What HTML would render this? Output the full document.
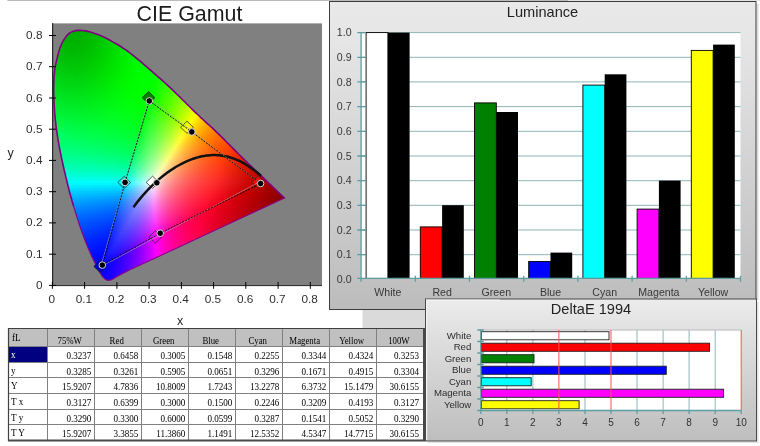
<!DOCTYPE html>
<html><head><meta charset="utf-8"><title>CIE Gamut</title>
<style>
html,body{margin:0;padding:0;background:#fff}
body{width:760px;height:446px;position:relative;overflow:hidden;font-family:"Liberation Sans",sans-serif}
#plot{position:absolute;left:52px;top:23px;width:270px;height:262px;background:linear-gradient(#b0b0b0,#b0b0b0 1px,#808080 1px)}
#cie{position:absolute;left:0;top:0;width:760px;height:446px;clip-path:polygon(172.0px 250.3px,169.1px 251.6px,166.1px 253.0px,163.2px 254.3px,160.2px 255.7px,157.3px 257.0px,154.4px 258.4px,151.4px 259.7px,148.5px 261.1px,145.5px 262.4px,142.6px 263.8px,139.7px 265.2px,136.7px 266.5px,133.8px 267.9px,130.9px 269.3px,128.0px 270.7px,125.1px 272.2px,122.2px 273.7px,119.4px 275.2px,116.6px 276.8px,113.9px 278.5px,110.9px 280.0px,107.8px 280.4px,104.8px 278.9px,102.5px 276.6px,100.8px 273.9px,99.2px 271.1px,97.7px 268.2px,96.2px 265.4px,94.7px 262.5px,93.3px 259.6px,91.9px 256.7px,90.6px 253.7px,89.3px 250.7px,88.0px 247.8px,86.8px 244.8px,85.6px 241.8px,84.4px 238.8px,83.3px 235.7px,82.2px 232.7px,81.1px 229.6px,80.0px 226.6px,79.0px 223.5px,78.0px 220.4px,77.0px 217.4px,76.1px 214.3px,75.1px 211.2px,74.2px 208.1px,73.2px 205.0px,72.3px 201.9px,71.5px 198.8px,70.6px 195.7px,69.7px 192.5px,68.9px 189.4px,68.1px 186.3px,67.3px 183.1px,66.6px 180.0px,65.8px 176.9px,65.1px 173.7px,64.3px 170.6px,63.6px 167.4px,62.9px 164.2px,62.2px 161.1px,61.5px 157.9px,60.9px 154.8px,60.2px 151.6px,59.6px 148.4px,59.0px 145.2px,58.5px 142.1px,57.9px 138.9px,57.4px 135.7px,56.9px 132.5px,56.5px 129.3px,56.0px 126.1px,55.7px 122.9px,55.3px 119.6px,55.0px 116.4px,54.7px 113.2px,54.5px 110.0px,54.3px 106.7px,54.1px 103.5px,54.0px 100.3px,53.9px 97.0px,53.8px 93.8px,53.7px 90.6px,53.7px 87.3px,53.8px 84.1px,53.9px 80.9px,54.0px 77.6px,54.3px 74.4px,54.6px 71.2px,55.0px 68.0px,55.6px 64.8px,56.3px 61.6px,57.1px 58.5px,57.8px 55.4px,58.7px 52.2px,59.6px 49.1px,60.7px 46.1px,62.0px 43.1px,63.6px 40.3px,65.4px 37.6px,67.4px 35.1px,69.8px 32.9px,72.7px 31.4px,75.8px 30.6px,79.1px 30.4px,82.3px 30.5px,85.5px 30.9px,88.7px 31.6px,91.8px 32.5px,94.9px 33.4px,97.9px 34.5px,100.9px 35.7px,103.9px 37.0px,106.8px 38.5px,109.6px 40.0px,112.4px 41.6px,115.3px 43.2px,118.0px 44.8px,120.8px 46.5px,123.5px 48.3px,126.2px 50.1px,128.8px 52.0px,131.3px 54.0px,133.9px 56.0px,136.4px 58.1px,138.9px 60.1px,141.3px 62.2px,143.8px 64.3px,146.2px 66.4px,148.7px 68.6px,151.1px 70.7px,153.6px 72.8px,156.0px 74.9px,158.4px 77.1px,160.9px 79.2px,163.3px 81.4px,165.7px 83.5px,168.0px 85.7px,170.4px 87.9px,172.8px 90.2px,175.1px 92.4px,177.4px 94.7px,179.7px 96.9px,182.0px 99.2px,184.3px 101.5px,186.6px 103.8px,188.9px 106.0px,191.2px 108.3px,193.5px 110.6px,195.8px 112.8px,198.2px 115.0px,200.5px 117.3px,202.9px 119.5px,205.3px 121.6px,207.7px 123.8px,210.1px 126.0px,212.5px 128.2px,214.8px 130.4px,217.1px 132.6px,219.5px 134.9px,221.8px 137.2px,224.1px 139.4px,226.3px 141.7px,228.6px 144.0px,230.9px 146.3px,233.2px 148.6px,235.5px 150.9px,237.8px 153.2px,240.1px 155.5px,242.4px 157.7px,244.7px 160.0px,247.0px 162.2px,249.3px 164.5px,251.7px 166.7px,254.0px 169.0px,256.3px 171.2px,258.7px 173.4px,261.0px 175.7px,263.4px 177.9px,265.7px 180.1px,268.0px 182.4px,270.4px 184.6px,272.7px 186.8px,275.1px 189.1px,277.4px 191.3px,279.7px 193.5px,282.1px 195.8px,284.4px 198.0px)}
#cie i{position:absolute;display:block;height:2px}
svg{position:absolute;left:0;top:0}
</style></head><body>
<div id="plot"></div>
<div id="cie">
<i style="left:75px;top:27px;width:12px;background:linear-gradient(90deg,#00ad00 0px,#00ae00 3px,#00af00 6px,#00b100 9px,#00b400 12px)"></i>
<i style="left:68px;top:29px;width:27px;background:linear-gradient(90deg,#00ae00 0px,#00ad00 3px,#00ad00 6px,#00ae00 9px,#00af00 12px,#00b100 15px,#00b300 18px,#00b600 21px,#00b900 24px,#00bd00 27px)"></i>
<i style="left:66px;top:31px;width:36px;background:linear-gradient(90deg,#00af00 0px,#00ae00 3px,#00ae00 6px,#00ae00 9px,#00af00 12px,#00b100 15px,#00b300 18px,#00b500 21px,#00b800 24px,#00bb00 27px,#00be00 30px,#00c200 33px,#00c600 36px)"></i>
<i style="left:64px;top:33px;width:42px;background:linear-gradient(90deg,#00b100 0px,#00b000 3px,#00af00 6px,#00af00 9px,#00af00 12px,#00b000 15px,#00b200 18px,#00b400 21px,#00b700 24px,#00b900 27px,#00bd00 30px,#00c000 33px,#00c400 36px,#00c800 39px,#00cc00 42px)"></i>
<i style="left:63px;top:35px;width:48px;background:linear-gradient(90deg,#00b200 0px,#00b100 3px,#00b000 6px,#00b000 9px,#00b000 12px,#00b100 15px,#00b200 18px,#00b400 21px,#00b700 24px,#00b900 27px,#00bc00 30px,#00c000 33px,#00c300 36px,#00c700 39px,#00cb00 42px,#00cf00 45px,#00d400 48px)"></i>
<i style="left:61px;top:37px;width:54px;background:linear-gradient(90deg,#00b401 0px,#00b301 3px,#00b100 6px,#00b100 9px,#00b100 12px,#00b100 15px,#00b200 18px,#00b400 21px,#00b600 24px,#00b800 27px,#00bb00 30px,#00be00 33px,#00c200 36px,#00c500 39px,#00c900 42px,#00cd00 45px,#00d200 48px,#00d600 51px,#00da00 54px)"></i>
<i style="left:60px;top:39px;width:57px;background:linear-gradient(90deg,#00b602 0px,#00b401 3px,#00b301 6px,#00b200 9px,#00b200 12px,#00b200 15px,#00b300 18px,#00b400 21px,#00b600 24px,#00b800 27px,#00bb00 30px,#00be00 33px,#00c100 36px,#00c500 39px,#00c900 42px,#00cd00 45px,#00d100 48px,#00d500 51px,#00d900 54px,#00dd00 57px)"></i>
<i style="left:59px;top:41px;width:63px;background:linear-gradient(90deg,#00b802 0px,#00b602 3px,#00b401 6px,#00b301 9px,#00b300 12px,#00b300 15px,#00b400 18px,#00b500 21px,#00b700 24px,#00b900 27px,#00bb00 30px,#00be00 33px,#00c100 36px,#00c500 39px,#00c800 42px,#00cc00 45px,#00d000 48px,#00d400 51px,#00d900 54px,#00dd00 57px,#00e100 60px,#00e500 63px)"></i>
<i style="left:58px;top:43px;width:66px;background:linear-gradient(90deg,#00b903 0px,#00b702 3px,#00b602 6px,#00b501 9px,#00b401 12px,#00b401 15px,#00b500 18px,#00b600 21px,#00b700 24px,#00b900 27px,#00bb00 30px,#00be00 33px,#00c100 36px,#00c400 39px,#00c800 42px,#00cc00 45px,#00d000 48px,#00d400 51px,#00d800 54px,#00dc00 57px,#00e000 60px,#00e400 63px,#00e800 66px)"></i>
<i style="left:57px;top:45px;width:69px;background:linear-gradient(90deg,#00bb04 0px,#00b903 3px,#00b802 6px,#00b602 9px,#00b601 12px,#00b601 15px,#00b601 18px,#00b700 21px,#00b800 24px,#00ba00 27px,#00bc00 30px,#00be00 33px,#00c100 36px,#00c400 39px,#00c800 42px,#00cb00 45px,#00cf00 48px,#00d300 51px,#00d700 54px,#00db00 57px,#00df00 60px,#00e300 63px,#00e700 66px,#00eb00 69px)"></i>
<i style="left:57px;top:47px;width:72px;background:linear-gradient(90deg,#00bd04 0px,#00bb04 3px,#00b903 6px,#00b802 9px,#00b702 12px,#00b701 15px,#00b701 18px,#00b801 21px,#00b900 24px,#00bb00 27px,#00bd00 30px,#00bf00 33px,#00c200 36px,#00c500 39px,#00c900 42px,#00cc00 45px,#00d000 48px,#00d400 51px,#00d800 54px,#00dc00 57px,#00e000 60px,#00e400 63px,#00e800 66px,#00ec00 69px,#00ef00 72px)"></i>
<i style="left:56px;top:49px;width:78px;background:linear-gradient(90deg,#00bf05 0px,#00bd04 3px,#00bb04 6px,#00ba03 9px,#00b903 12px,#00b802 15px,#00b802 18px,#00b901 21px,#00ba01 24px,#00bc00 27px,#00be00 30px,#00c000 33px,#00c300 36px,#00c600 39px,#00c900 42px,#00cc00 45px,#00d000 48px,#00d400 51px,#00d800 54px,#00dc00 57px,#00e000 60px,#00e400 63px,#00e700 66px,#00eb00 69px,#00ef00 72px,#00f200 75px,#00f500 78px)"></i>
<i style="left:56px;top:51px;width:78px;background:linear-gradient(90deg,#00c006 0px,#00be05 3px,#00bc04 6px,#00bb04 9px,#00ba03 12px,#00ba03 15px,#00ba02 18px,#00bb02 21px,#00bc01 24px,#00bd01 27px,#00bf00 30px,#00c100 33px,#00c400 36px,#00c700 39px,#00ca00 42px,#00cd00 45px,#00d100 48px,#00d500 51px,#00d900 54px,#00dd00 57px,#00e000 60px,#00e400 63px,#00e800 66px,#00ec00 69px,#00ef00 72px,#00f200 75px,#00f500 78px)"></i>
<i style="left:55px;top:53px;width:84px;background:linear-gradient(90deg,#00c207 0px,#00c006 3px,#00be05 6px,#00bd05 9px,#00bc04 12px,#00bb03 15px,#00bb03 18px,#00bc02 21px,#00bd02 24px,#00be01 27px,#00c001 30px,#00c200 33px,#00c400 36px,#00c700 39px,#00ca00 42px,#00cd00 45px,#00d100 48px,#00d500 51px,#00d800 54px,#00dc00 57px,#00e000 60px,#00e400 63px,#00e800 66px,#00eb00 69px,#00ef00 72px,#00f200 75px,#00f500 78px,#00f800 81px,#00fa00 84px)"></i>
<i style="left:55px;top:55px;width:84px;background:linear-gradient(90deg,#00c407 0px,#00c207 3px,#00c006 6px,#00be05 9px,#00be05 12px,#00bd04 15px,#00bd03 18px,#00bd03 21px,#00be02 24px,#00c002 27px,#00c101 30px,#00c301 33px,#00c600 36px,#00c800 39px,#00cb00 42px,#00cf00 45px,#00d200 48px,#00d600 51px,#00d900 54px,#00dd00 57px,#00e100 60px,#00e500 63px,#00e800 66px,#00ec00 69px,#00ef00 72px,#00f200 75px,#00f500 78px,#00f800 81px,#00fa00 84px)"></i>
<i style="left:54px;top:57px;width:90px;background:linear-gradient(90deg,#00c609 0px,#00c408 3px,#00c207 6px,#00c006 9px,#00bf06 12px,#00bf05 15px,#00bf04 18px,#00bf04 21px,#00c003 24px,#00c102 27px,#00c202 30px,#00c401 33px,#00c601 36px,#00c900 39px,#00cc00 42px,#00cf00 45px,#00d200 48px,#00d600 51px,#00d900 54px,#00dd00 57px,#00e100 60px,#00e400 63px,#00e800 66px,#00eb00 69px,#00ef00 72px,#00f200 75px,#00f500 78px,#00f800 81px,#00fa00 84px,#00fc00 87px,#00fd00 90px)"></i>
<i style="left:54px;top:59px;width:90px;background:linear-gradient(90deg,#00c709 0px,#00c509 3px,#00c408 6px,#00c207 9px,#00c106 12px,#00c006 15px,#00c005 18px,#00c104 21px,#00c104 24px,#00c203 27px,#00c402 30px,#00c602 33px,#00c801 36px,#00ca01 39px,#00cd00 42px,#00d000 45px,#00d400 48px,#00d700 51px,#00da00 54px,#00de00 57px,#00e200 60px,#00e500 63px,#00e900 66px,#00ec00 69px,#00f000 72px,#00f300 75px,#00f500 78px,#00f800 81px,#00fa00 84px,#00fc00 87px,#00fe00 90px)"></i>
<i style="left:53px;top:61px;width:93px;background:linear-gradient(90deg,#00ca0b 0px,#00c80a 3px,#00c609 6px,#00c408 9px,#00c307 12px,#00c207 15px,#00c206 18px,#00c205 21px,#00c305 24px,#00c404 27px,#00c503 30px,#00c703 33px,#00c902 36px,#00cb01 39px,#00ce01 42px,#00d100 45px,#00d400 48px,#00d700 51px,#00da00 54px,#00de00 57px,#00e200 60px,#00e500 63px,#00e900 66px,#00ec00 69px,#00ef00 72px,#00f200 75px,#00f500 78px,#00f800 81px,#00fa00 84px,#00fc00 87px,#00fd00 90px,#00fe00 93px)"></i>
<i style="left:53px;top:63px;width:96px;background:linear-gradient(90deg,#00cb0c 0px,#00c90b 3px,#00c70a 6px,#00c609 9px,#00c508 12px,#00c407 15px,#00c407 18px,#00c406 21px,#00c405 24px,#00c505 27px,#00c704 30px,#00c803 33px,#00ca03 36px,#00cd02 39px,#00cf01 42px,#00d201 45px,#00d500 48px,#00d800 51px,#00dc00 54px,#00df00 57px,#00e300 60px,#00e600 63px,#00e900 66px,#00ed00 69px,#00f000 72px,#00f300 75px,#00f600 78px,#00f800 81px,#00fa00 84px,#00fc00 87px,#00fe00 90px,#00ff00 93px,#00ff00 96px)"></i>
<i style="left:53px;top:65px;width:99px;background:linear-gradient(90deg,#00cd0d 0px,#00cb0c 3px,#00c90b 6px,#00c80a 9px,#00c709 12px,#00c608 15px,#00c608 18px,#00c607 21px,#00c606 24px,#00c705 27px,#00c805 30px,#00ca04 33px,#00cc03 36px,#00ce03 39px,#00d102 42px,#00d401 45px,#00d701 48px,#00da00 51px,#00dd00 54px,#00e000 57px,#00e400 60px,#00e700 63px,#00ea00 66px,#00ee00 69px,#00f100 72px,#00f400 75px,#00f600 78px,#00f900 81px,#00fb00 84px,#00fc00 87px,#00fe00 90px,#00ff00 93px,#00ff00 96px,#00ff00 99px)"></i>
<i style="left:52px;top:67px;width:102px;background:linear-gradient(90deg,#00cf0e 0px,#00cd0d 3px,#00cb0c 6px,#00ca0b 9px,#00c90a 12px,#00c80a 15px,#00c709 18px,#00c708 21px,#00c807 24px,#00c806 27px,#00ca06 30px,#00cb05 33px,#00cd04 36px,#00cf04 39px,#00d103 42px,#00d402 45px,#00d702 48px,#00da01 51px,#00dd01 54px,#00e000 57px,#00e400 60px,#00e700 63px,#00ea00 66px,#00ed00 69px,#00f000 72px,#00f300 75px,#00f600 78px,#00f800 81px,#00fb00 84px,#00fc00 87px,#00fe00 90px,#00ff00 93px,#00ff00 96px,#00ff00 99px,#00ff00 102px)"></i>
<i style="left:52px;top:69px;width:105px;background:linear-gradient(90deg,#00d10f 0px,#00cf0e 3px,#00cd0d 6px,#00cc0c 9px,#00ca0b 12px,#00ca0b 15px,#00c90a 18px,#00c909 21px,#00ca08 24px,#00ca07 27px,#00cb07 30px,#00cd06 33px,#00cf05 36px,#00d104 39px,#00d304 42px,#00d603 45px,#00d802 48px,#00db02 51px,#00de01 54px,#00e200 57px,#00e500 60px,#00e800 63px,#00eb00 66px,#00ee00 69px,#00f100 72px,#00f400 75px,#00f700 78px,#00f900 81px,#00fb00 84px,#00fd00 87px,#00fe00 90px,#00ff00 93px,#00ff00 96px,#00ff00 99px,#00ff00 102px,#00ff00 105px)"></i>
<i style="left:52px;top:71px;width:108px;background:linear-gradient(90deg,#00d311 0px,#00d110 3px,#00cf0e 6px,#00cd0e 9px,#00cc0d 12px,#00cc0c 15px,#00cb0b 18px,#00cb0a 21px,#00cb09 24px,#00cc08 27px,#00cd08 30px,#00cf07 33px,#00d006 36px,#00d205 39px,#00d504 42px,#00d704 45px,#00da03 48px,#00dd02 51px,#00e002 54px,#00e301 57px,#00e600 60px,#00e900 63px,#00ec00 66px,#00ef00 69px,#00f200 72px,#00f500 75px,#00f700 78px,#00f900 81px,#00fb00 84px,#00fd00 87px,#00fe00 90px,#00ff00 93px,#00ff00 96px,#00ff00 99px,#00ff00 102px,#01ff00 105px,#0bff00 108px)"></i>
<i style="left:52px;top:73px;width:108px;background:linear-gradient(90deg,#00d412 0px,#00d211 3px,#00d110 6px,#00cf0f 9px,#00ce0e 12px,#00cd0d 15px,#00cd0c 18px,#00cd0b 21px,#00cd0a 24px,#00ce09 27px,#00cf08 30px,#00d008 33px,#00d207 36px,#00d406 39px,#00d605 42px,#00d905 45px,#00db04 48px,#00de03 51px,#00e102 54px,#00e402 57px,#00e701 60px,#00ea00 63px,#00ed00 66px,#00f000 69px,#00f300 72px,#00f500 75px,#00f800 78px,#00fa00 81px,#00fc00 84px,#00fd00 87px,#00fe00 90px,#00ff00 93px,#00ff00 96px,#00ff00 99px,#00ff00 102px,#03ff00 105px,#0dff00 108px)"></i>
<i style="left:52px;top:75px;width:111px;background:linear-gradient(90deg,#00d613 0px,#00d412 3px,#00d211 6px,#00d110 9px,#00d00f 12px,#00cf0e 15px,#00cf0d 18px,#00cf0c 21px,#00cf0b 24px,#00d00a 27px,#00d10a 30px,#00d209 33px,#00d408 36px,#00d607 39px,#00d806 42px,#00da05 45px,#00dd05 48px,#00e004 51px,#00e203 54px,#00e502 57px,#00e802 60px,#00eb01 63px,#00ee00 66px,#00f100 69px,#00f400 72px,#00f600 75px,#00f800 78px,#00fa00 81px,#00fc00 84px,#00fd00 87px,#00fe00 90px,#00ff00 93px,#00ff00 96px,#00ff00 99px,#00ff00 102px,#05ff00 105px,#0fff00 108px,#18ff00 111px)"></i>
<i style="left:52px;top:77px;width:114px;background:linear-gradient(90deg,#00d815 0px,#00d613 3px,#00d412 6px,#00d311 9px,#00d210 12px,#00d10f 15px,#00d10e 18px,#00d10d 21px,#00d10c 24px,#00d20c 27px,#00d30b 30px,#00d40a 33px,#00d609 36px,#00d708 39px,#00da07 42px,#00dc06 45px,#00de06 48px,#00e105 51px,#00e404 54px,#00e703 57px,#00ea02 60px,#00ec02 63px,#00ef01 66px,#00f200 69px,#00f400 72px,#00f700 75px,#00f900 78px,#00fb00 81px,#00fd00 84px,#00fe00 87px,#00ff00 90px,#00ff00 93px,#00ff00 96px,#00ff00 99px,#00ff00 102px,#07ff00 105px,#11ff00 108px,#1aff00 111px,#25ff00 114px)"></i>
<i style="left:52px;top:79px;width:117px;background:linear-gradient(90deg,#00da16 0px,#00d815 3px,#00d614 6px,#00d513 9px,#00d412 12px,#00d311 15px,#00d310 18px,#00d30f 21px,#00d30e 24px,#00d40d 27px,#00d50c 30px,#00d60b 33px,#00d70a 36px,#00d909 39px,#00db08 42px,#00de07 45px,#00e007 48px,#00e306 51px,#00e505 54px,#00e804 57px,#00eb03 60px,#00ed02 63px,#00f001 66px,#00f301 69px,#00f500 72px,#00f800 75px,#00fa00 78px,#00fb00 81px,#00fd00 84px,#00fe00 87px,#00ff00 90px,#00ff00 93px,#00ff00 96px,#00ff00 99px,#00ff00 102px,#09ff00 105px,#13ff00 108px,#1dff00 111px,#27ff00 114px,#31ff00 117px)"></i>
<i style="left:52px;top:81px;width:117px;background:linear-gradient(90deg,#00db18 0px,#00d916 3px,#00d815 6px,#00d714 9px,#00d613 12px,#00d512 15px,#00d511 18px,#00d510 21px,#00d50f 24px,#00d60e 27px,#00d60d 30px,#00d80c 33px,#00d90b 36px,#00db0a 39px,#00dd09 42px,#00df09 45px,#00e108 48px,#00e407 51px,#00e706 54px,#00e905 57px,#00ec04 60px,#00ef03 63px,#00f102 66px,#00f401 69px,#00f601 72px,#00f800 75px,#00fa00 78px,#00fc00 81px,#00fd00 84px,#00fe00 87px,#00ff00 90px,#00ff00 93px,#00ff00 96px,#00ff00 99px,#01ff00 102px,#0bff00 105px,#15ff00 108px,#1fff00 111px,#29ff00 114px,#34ff00 117px)"></i>
<i style="left:52px;top:83px;width:120px;background:linear-gradient(90deg,#00dd19 0px,#00db18 3px,#00da17 6px,#00d916 9px,#00d815 12px,#00d713 15px,#00d712 18px,#00d711 21px,#00d710 24px,#00d70f 27px,#00d80e 30px,#00da0d 33px,#00db0d 36px,#00dd0c 39px,#00df0b 42px,#00e10a 45px,#00e309 48px,#00e508 51px,#00e807 54px,#00ea06 57px,#00ed05 60px,#00f004 63px,#00f203 66px,#00f502 69px,#00f701 72px,#00f901 75px,#00fb00 78px,#00fc00 81px,#00fe00 84px,#00fe00 87px,#00ff00 90px,#00ff00 93px,#00ff00 96px,#00ff00 99px,#03ff00 102px,#0dff00 105px,#17ff00 108px,#21ff00 111px,#2cff00 114px,#37ff00 117px,#42ff00 120px)"></i>
<i style="left:52px;top:85px;width:123px;background:linear-gradient(90deg,#00df1b 0px,#00dd1a 3px,#00dc18 6px,#00da17 9px,#00d916 12px,#00d915 15px,#00d814 18px,#00d813 21px,#00d912 24px,#00d911 27px,#00da10 30px,#00db0f 33px,#00dd0e 36px,#00de0d 39px,#00e00c 42px,#00e20b 45px,#00e50a 48px,#00e709 51px,#00e908 54px,#00ec07 57px,#00ee06 60px,#00f105 63px,#00f304 66px,#00f503 69px,#00f802 72px,#00fa01 75px,#00fb01 78px,#00fd00 81px,#00fe00 84px,#00ff00 87px,#00ff00 90px,#00ff00 93px,#00ff00 96px,#00ff00 99px,#05ff00 102px,#0fff00 105px,#19ff00 108px,#24ff00 111px,#2eff00 114px,#39ff00 117px,#45ff00 120px,#50ff00 123px)"></i>
<i style="left:52px;top:87px;width:123px;background:linear-gradient(90deg,#00e01d 0px,#00df1b 3px,#00dd1a 6px,#00dc19 9px,#00db18 12px,#00db17 15px,#00da15 18px,#00da14 21px,#00db13 24px,#00db12 27px,#00dc11 30px,#00dd10 33px,#00df0f 36px,#00e00e 39px,#00e20d 42px,#00e40c 45px,#00e60b 48px,#00e80a 51px,#00eb09 54px,#00ed08 57px,#00ef07 60px,#00f206 63px,#00f405 66px,#00f604 69px,#00f803 72px,#00fa02 75px,#00fc01 78px,#00fd01 81px,#00fe00 84px,#00ff00 87px,#00ff00 90px,#00ff00 93px,#00ff00 96px,#00ff00 99px,#07ff00 102px,#11ff00 105px,#1bff00 108px,#26ff00 111px,#31ff00 114px,#3cff00 117px,#48ff00 120px,#53ff00 123px)"></i>
<i style="left:52px;top:89px;width:126px;background:linear-gradient(90deg,#00e21e 0px,#00e11d 3px,#00df1c 6px,#00de1b 9px,#00dd19 12px,#00dd18 15px,#00dc17 18px,#00dc16 21px,#00dd15 24px,#00dd14 27px,#00de13 30px,#00df12 33px,#00e011 36px,#00e210 39px,#00e40f 42px,#00e50e 45px,#00e80d 48px,#00ea0c 51px,#00ec0b 54px,#00ee09 57px,#00f108 60px,#00f307 63px,#00f506 66px,#00f705 69px,#00f904 72px,#00fb03 75px,#00fc02 78px,#00fd01 81px,#00fe00 84px,#00ff00 87px,#00ff00 90px,#00ff00 93px,#00ff00 96px,#00ff00 99px,#09ff00 102px,#13ff00 105px,#1eff00 108px,#29ff00 111px,#34ff00 114px,#3fff00 117px,#4bff00 120px,#57ff00 123px,#63ff00 126px)"></i>
<i style="left:52px;top:91px;width:129px;background:linear-gradient(90deg,#00e420 0px,#00e21f 3px,#00e11e 6px,#00e01c 9px,#00df1b 12px,#00de1a 15px,#00de19 18px,#00de18 21px,#00de17 24px,#00df16 27px,#00e014 30px,#00e113 33px,#00e212 36px,#00e411 39px,#00e510 42px,#00e70f 45px,#00e90e 48px,#00eb0d 51px,#00ed0c 54px,#00ef0b 57px,#00f20a 60px,#00f409 63px,#00f607 66px,#00f806 69px,#00fa05 72px,#00fb04 75px,#00fd03 78px,#00fe02 81px,#00ff01 84px,#00ff00 87px,#00ff00 90px,#00ff00 93px,#00ff00 96px,#01ff00 99px,#0bff00 102px,#15ff00 105px,#20ff00 108px,#2bff00 111px,#37ff00 114px,#42ff00 117px,#4eff00 120px,#5aff00 123px,#67ff00 126px,#73ff00 129px)"></i>
<i style="left:52px;top:93px;width:129px;background:linear-gradient(90deg,#00e522 0px,#00e421 3px,#00e320 6px,#00e21e 9px,#00e11d 12px,#00e01c 15px,#00e01b 18px,#00e01a 21px,#00e018 24px,#00e117 27px,#00e216 30px,#00e315 33px,#00e414 36px,#00e513 39px,#00e712 42px,#00e911 45px,#00eb10 48px,#00ed0e 51px,#00ef0d 54px,#00f10c 57px,#00f30b 60px,#00f50a 63px,#00f709 66px,#00f908 69px,#00fa06 72px,#00fc05 75px,#00fd04 78px,#00fe03 81px,#00ff02 84px,#00ff01 87px,#00ff00 90px,#00ff00 93px,#00ff00 96px,#03ff00 99px,#0dff00 102px,#18ff00 105px,#23ff00 108px,#2eff00 111px,#3aff00 114px,#45ff00 117px,#51ff00 120px,#5eff00 123px,#6aff00 126px,#77ff00 129px)"></i>
<i style="left:52px;top:95px;width:132px;background:linear-gradient(90deg,#00e724 0px,#00e623 3px,#00e422 6px,#00e320 9px,#00e31f 12px,#00e21e 15px,#00e21d 18px,#00e21b 21px,#00e21a 24px,#00e319 27px,#00e318 30px,#00e417 33px,#00e516 36px,#00e715 39px,#00e814 42px,#00ea12 45px,#00ec11 48px,#00ee10 51px,#00f00f 54px,#00f20e 57px,#00f40d 60px,#00f60b 63px,#00f80a 66px,#00f909 69px,#00fb08 72px,#00fc06 75px,#00fe05 78px,#00fe04 81px,#00ff03 84px,#00ff02 87px,#00ff01 90px,#00ff00 93px,#00ff00 96px,#05ff00 99px,#0fff00 102px,#1aff00 105px,#25ff00 108px,#31ff00 111px,#3dff00 114px,#48ff00 117px,#55ff00 120px,#61ff00 123px,#6eff00 126px,#7bff00 129px,#89ff00 132px)"></i>
<i style="left:52px;top:97px;width:135px;background:linear-gradient(90deg,#00e927 0px,#00e725 3px,#00e624 6px,#00e522 9px,#00e521 12px,#00e420 15px,#00e41f 18px,#00e41d 21px,#00e41c 24px,#00e41b 27px,#00e51a 30px,#00e619 33px,#00e718 36px,#00e816 39px,#00ea15 42px,#00ec14 45px,#00ed13 48px,#00ef12 51px,#00f111 54px,#00f30f 57px,#00f50e 60px,#00f70d 63px,#00f80c 66px,#00fa0a 69px,#00fc09 72px,#00fd08 75px,#00fe07 78px,#00ff05 81px,#00ff04 84px,#00ff03 87px,#00ff02 90px,#00ff01 93px,#00ff00 96px,#07ff00 99px,#12ff00 102px,#1dff00 105px,#28ff00 108px,#34ff00 111px,#40ff00 114px,#4cff00 117px,#58ff00 120px,#65ff00 123px,#72ff00 126px,#80ff00 129px,#8dff00 132px,#9cff00 135px)"></i>
<i style="left:52px;top:99px;width:138px;background:linear-gradient(90deg,#00ea29 0px,#00e927 3px,#00e826 6px,#00e725 9px,#00e623 12px,#00e622 15px,#00e621 18px,#00e61f 21px,#00e61e 24px,#00e61d 27px,#00e71c 30px,#00e81b 33px,#00e91a 36px,#00ea18 39px,#00ec17 42px,#00ed16 45px,#00ef15 48px,#00f114 51px,#00f212 54px,#00f411 57px,#00f610 60px,#00f80f 63px,#00f90d 66px,#00fb0c 69px,#00fc0b 72px,#00fd09 75px,#00fe08 78px,#00ff07 81px,#00ff05 84px,#00ff04 87px,#00ff03 90px,#00ff02 93px,#00ff01 96px,#0aff02 99px,#14ff00 102px,#1fff00 105px,#2bff00 108px,#37ff00 111px,#43ff00 114px,#4fff00 117px,#5cff00 120px,#69ff00 123px,#76ff00 126px,#84ff00 129px,#92ff00 132px,#a1ff00 135px,#afff00 138px)"></i>
<i style="left:52px;top:101px;width:138px;background:linear-gradient(90deg,#00ec2b 0px,#00eb2a 3px,#00ea28 6px,#00e927 9px,#00e826 12px,#00e824 15px,#00e723 18px,#00e722 21px,#00e720 24px,#00e81f 27px,#00e91e 30px,#00e91d 33px,#00ea1c 36px,#00ec1a 39px,#00ed19 42px,#00ef18 45px,#00f017 48px,#00f215 51px,#00f314 54px,#00f513 57px,#00f712 60px,#00f910 63px,#00fa0f 66px,#00fb0e 69px,#00fd0c 72px,#00fe0b 75px,#00fe09 78px,#00ff08 81px,#00ff07 84px,#00ff05 87px,#00ff04 90px,#00ff03 93px,#00ff02 96px,#0eff06 99px,#17ff01 102px,#22ff00 105px,#2eff00 108px,#3aff00 111px,#46ff00 114px,#53ff00 117px,#60ff00 120px,#6dff00 123px,#7bff00 126px,#89ff00 129px,#97ff00 132px,#a6ff00 135px,#b5ff00 138px)"></i>
<i style="left:52px;top:103px;width:141px;background:linear-gradient(90deg,#00ed2e 0px,#00ec2c 3px,#00eb2b 6px,#00ea29 9px,#00ea28 12px,#00e927 15px,#00e925 18px,#00e924 21px,#00e923 24px,#00ea21 27px,#00ea20 30px,#00eb1f 33px,#00ec1e 36px,#00ed1c 39px,#00ef1b 42px,#00f01a 45px,#00f119 48px,#00f317 51px,#00f516 54px,#00f615 57px,#00f813 60px,#00f912 63px,#00fb11 66px,#00fc0f 69px,#00fd0e 72px,#00fe0c 75px,#00ff0b 78px,#00ff09 81px,#00ff08 84px,#00ff07 87px,#00ff05 90px,#00ff04 93px,#05ff06 96px,#12ff0a 99px,#1bff06 102px,#24ff00 105px,#30ff00 108px,#3dff00 111px,#49ff00 114px,#56ff00 117px,#63ff00 120px,#71ff00 123px,#7fff00 126px,#8dff00 129px,#9cff00 132px,#abff00 135px,#bbff00 138px,#cbff00 141px)"></i>
<i style="left:52px;top:105px;width:144px;background:linear-gradient(90deg,#00ef30 0px,#00ee2f 3px,#00ed2d 6px,#00ec2c 9px,#00eb2a 12px,#00eb29 15px,#00eb28 18px,#00eb26 21px,#00eb25 24px,#00eb24 27px,#00ec22 30px,#00ed21 33px,#00ee20 36px,#00ef1f 39px,#00f01d 42px,#00f11c 45px,#00f31b 48px,#00f41a 51px,#00f618 54px,#00f717 57px,#00f915 60px,#00fa14 63px,#00fb13 66px,#00fd11 69px,#00fe10 72px,#00fe0e 75px,#00ff0d 78px,#00ff0b 81px,#00ff0a 84px,#00ff08 87px,#00ff07 90px,#00ff05 93px,#08ff0a 96px,#15ff0e 99px,#1fff0a 102px,#2aff05 105px,#33ff00 108px,#40ff00 111px,#4dff00 114px,#5aff00 117px,#67ff00 120px,#75ff00 123px,#84ff00 126px,#92ff00 129px,#a1ff00 132px,#b1ff00 135px,#c0ff00 138px,#d1ff00 141px,#e2ff00 144px)"></i>
<i style="left:52px;top:107px;width:144px;background:linear-gradient(90deg,#00f033 0px,#00ef31 3px,#00ee30 6px,#00ee2e 9px,#00ed2d 12px,#00ed2b 15px,#00ec2a 18px,#00ec29 21px,#00ed27 24px,#00ed26 27px,#00ed25 30px,#00ee24 33px,#00ef22 36px,#00f021 39px,#00f120 42px,#00f31e 45px,#00f41d 48px,#00f51c 51px,#00f71a 54px,#00f819 57px,#00fa18 60px,#00fb16 63px,#00fc15 66px,#00fd13 69px,#00fe12 72px,#00ff10 75px,#00ff0e 78px,#00ff0d 81px,#00ff0b 84px,#00ff0a 87px,#00ff08 90px,#00ff07 93px,#0bff0e 96px,#19ff12 99px,#23ff0e 102px,#2eff0a 105px,#38ff05 108px,#43ff00 111px,#50ff00 114px,#5eff00 117px,#6cff00 120px,#7aff00 123px,#88ff00 126px,#97ff00 129px,#a6ff00 132px,#b6ff00 135px,#c7ff00 138px,#d7ff00 141px,#e8ff00 144px)"></i>
<i style="left:52px;top:109px;width:147px;background:linear-gradient(90deg,#00f235 0px,#00f134 3px,#00f032 6px,#00ef31 9px,#00ef2f 12px,#00ee2e 15px,#00ee2d 18px,#00ee2b 21px,#00ee2a 24px,#00ee29 27px,#00ef27 30px,#00f026 33px,#00f125 36px,#00f223 39px,#00f322 42px,#00f421 45px,#00f51f 48px,#00f61e 51px,#00f81d 54px,#00f91b 57px,#00fa1a 60px,#00fc18 63px,#00fd17 66px,#00fe15 69px,#00fe14 72px,#00ff12 75px,#00ff10 78px,#00ff0f 81px,#00ff0d 84px,#00ff0b 87px,#00ff0a 90px,#00ff08 93px,#0fff11 96px,#1cff16 99px,#27ff12 102px,#32ff0e 105px,#3dff09 108px,#48ff04 111px,#54ff00 114px,#62ff00 117px,#70ff00 120px,#7eff00 123px,#8dff00 126px,#9cff00 129px,#acff00 132px,#bcff00 135px,#cdff00 138px,#deff00 141px,#f0ff00 144px,#fffc00 147px)"></i>
<i style="left:52px;top:111px;width:150px;background:linear-gradient(90deg,#00f338 0px,#00f237 3px,#00f135 6px,#00f134 9px,#00f032 12px,#00f031 15px,#00f02f 18px,#00f02e 21px,#00f02d 24px,#00f02b 27px,#00f12a 30px,#00f129 33px,#00f227 36px,#00f326 39px,#00f425 42px,#00f523 45px,#00f622 48px,#00f820 51px,#00f91f 54px,#00fa1e 57px,#00fb1c 60px,#00fc1a 63px,#00fd19 66px,#00fe17 69px,#00ff16 72px,#00ff14 75px,#00ff12 78px,#00ff11 81px,#00ff0f 84px,#00ff0d 87px,#00ff0c 90px,#00ff0a 93px,#12ff15 96px,#20ff1a 99px,#2bff16 102px,#36ff12 105px,#41ff0e 108px,#4dff09 111px,#59ff03 114px,#66ff00 117px,#74ff00 120px,#83ff00 123px,#92ff00 126px,#a2ff00 129px,#b2ff00 132px,#c2ff00 135px,#d3ff00 138px,#e5ff00 141px,#f7ff00 144px,#fff500 147px,#ffe400 150px)"></i>
<i style="left:52px;top:113px;width:150px;background:linear-gradient(90deg,#00f43b 0px,#00f33a 3px,#00f338 6px,#00f237 9px,#00f235 12px,#00f134 15px,#00f132 18px,#00f131 21px,#00f12f 24px,#00f22e 27px,#00f22d 30px,#00f32b 33px,#00f32a 36px,#00f429 39px,#00f527 42px,#00f626 45px,#00f724 48px,#00f923 51px,#00fa21 54px,#00fb20 57px,#00fc1e 60px,#00fd1d 63px,#00fe1b 66px,#00fe1a 69px,#00ff18 72px,#00ff16 75px,#00ff14 78px,#00ff13 81px,#00ff11 84px,#00ff0f 87px,#00ff0d 90px,#04ff0e 93px,#15ff18 96px,#23ff1e 99px,#2eff1a 102px,#3aff16 105px,#46ff12 108px,#52ff0d 111px,#5eff08 114px,#6bff03 117px,#79ff00 120px,#88ff00 123px,#97ff00 126px,#a7ff00 129px,#b8ff00 132px,#c9ff00 135px,#daff00 138px,#ecff00 141px,#ffff00 144px,#ffed00 147px,#ffde00 150px)"></i>
<i style="left:52px;top:115px;width:153px;background:linear-gradient(90deg,#00f63e 0px,#00f53d 3px,#00f43b 6px,#00f339 9px,#00f338 12px,#00f337 15px,#00f235 18px,#00f234 21px,#00f332 24px,#00f331 27px,#00f330 30px,#00f42e 33px,#00f52d 36px,#00f52b 39px,#00f62a 42px,#00f729 45px,#00f827 48px,#00f926 51px,#00fb24 54px,#00fc23 57px,#00fc21 60px,#00fd1f 63px,#00fe1e 66px,#00ff1c 69px,#00ff1a 72px,#00ff19 75px,#00ff17 78px,#00ff15 81px,#00ff13 84px,#00ff11 87px,#00ff10 90px,#08ff13 93px,#19ff1c 96px,#27ff22 99px,#32ff1e 102px,#3eff1a 105px,#4aff16 108px,#56ff12 111px,#63ff0d 114px,#71ff08 117px,#7eff02 120px,#8dff00 123px,#9dff00 126px,#adff00 129px,#beff00 132px,#cfff00 135px,#e1ff00 138px,#f4ff00 141px,#fff800 144px,#ffe600 147px,#ffd700 150px,#ffc900 153px)"></i>
<i style="left:52px;top:117px;width:156px;background:linear-gradient(90deg,#00f741 0px,#00f640 3px,#00f53e 6px,#00f53d 9px,#00f43b 12px,#00f43a 15px,#00f438 18px,#00f437 21px,#00f435 24px,#00f434 27px,#00f532 30px,#00f531 33px,#00f630 36px,#00f72e 39px,#00f82d 42px,#00f82b 45px,#00f92a 48px,#00fa28 51px,#00fb27 54px,#00fc25 57px,#00fd24 60px,#00fe22 63px,#00fe20 66px,#00ff1f 69px,#00ff1d 72px,#00ff1b 75px,#00ff19 78px,#00ff17 81px,#00ff15 84px,#00ff14 87px,#00ff12 90px,#0bff17 93px,#1cff1f 96px,#2aff26 99px,#36ff22 102px,#42ff1e 105px,#4eff1a 108px,#5bff16 111px,#68ff11 114px,#76ff0d 117px,#84ff07 120px,#92ff01 123px,#a2ff00 126px,#b3ff00 129px,#c4ff00 132px,#d6ff00 135px,#e8ff00 138px,#fbff00 141px,#fff000 144px,#ffdf00 147px,#ffd000 150px,#ffc300 153px,#ffb700 156px)"></i>
<i style="left:53px;top:119px;width:156px;background:linear-gradient(90deg,#00f844 0px,#00f742 3px,#00f641 6px,#00f63f 9px,#00f63e 12px,#00f53c 15px,#00f53b 18px,#00f539 21px,#00f538 24px,#00f637 27px,#00f635 30px,#00f734 33px,#00f732 36px,#00f831 39px,#00f92f 42px,#00fa2e 45px,#00fb2c 48px,#00fb2b 51px,#00fc29 54px,#00fd28 57px,#00fe26 60px,#00fe24 63px,#00ff22 66px,#00ff21 69px,#00ff1f 72px,#00ff1d 75px,#00ff1b 78px,#00ff19 81px,#00ff17 84px,#00ff15 87px,#02ff15 90px,#15ff1e 93px,#24ff26 96px,#32ff28 99px,#3eff25 102px,#4aff21 105px,#57ff1d 108px,#64ff19 111px,#72ff14 114px,#80ff10 117px,#8fff0a 120px,#9eff05 123px,#aeff00 126px,#bfff00 129px,#d1ff00 132px,#e3ff00 135px,#f6ff00 138px,#fff400 141px,#ffe300 144px,#ffd300 147px,#ffc500 150px,#ffb900 153px,#ffad00 156px)"></i>
<i style="left:53px;top:121px;width:159px;background:linear-gradient(90deg,#00f947 0px,#00f846 3px,#00f844 6px,#00f743 9px,#00f741 12px,#00f740 15px,#00f63e 18px,#00f63d 21px,#00f73b 24px,#00f73a 27px,#00f738 30px,#00f837 33px,#00f835 36px,#00f934 39px,#00fa32 42px,#00fb31 45px,#00fb2f 48px,#00fc2e 51px,#00fd2c 54px,#00fe2b 57px,#00fe29 60px,#00ff27 63px,#00ff25 66px,#00ff23 69px,#00ff21 72px,#00ff20 75px,#00ff1e 78px,#00ff1c 81px,#00ff1a 84px,#00ff18 87px,#06ff1a 90px,#18ff22 93px,#28ff2a 96px,#35ff2c 99px,#42ff29 102px,#4eff25 105px,#5bff21 108px,#69ff1d 111px,#77ff19 114px,#86ff14 117px,#95ff0f 120px,#a4ff0a 123px,#b5ff04 126px,#c6ff00 129px,#d8ff00 132px,#ebff00 135px,#ffff00 138px,#ffed00 141px,#ffdc00 144px,#ffcd00 147px,#ffbf00 150px,#ffb300 153px,#ffa800 156px,#ff9e00 159px)"></i>
<i style="left:53px;top:123px;width:162px;background:linear-gradient(90deg,#00fa4b 0px,#00f949 3px,#00f948 6px,#00f846 9px,#00f845 12px,#00f843 15px,#00f842 18px,#00f840 21px,#00f83f 24px,#00f83d 27px,#00f83c 30px,#00f93a 33px,#00f939 36px,#00fa37 39px,#00fb36 42px,#00fb34 45px,#00fc33 48px,#00fd31 51px,#00fd2f 54px,#00fe2e 57px,#00fe2c 60px,#00ff2a 63px,#00ff28 66px,#00ff26 69px,#00ff24 72px,#00ff22 75px,#00ff20 78px,#00ff1e 81px,#00ff1c 84px,#00ff1a 87px,#0aff1e 90px,#1bff26 93px,#2bff2d 96px,#39ff31 99px,#46ff2d 102px,#53ff29 105px,#60ff26 108px,#6eff22 111px,#7cff1d 114px,#8bff19 117px,#9bff14 120px,#abff0f 123px,#bcff09 126px,#cdff03 129px,#dfff00 132px,#f3ff00 135px,#fff700 138px,#ffe500 141px,#ffd500 144px,#ffc600 147px,#ffb900 150px,#ffae00 153px,#ffa300 156px,#ff9900 159px,#ff9000 162px)"></i>
<i style="left:53px;top:125px;width:162px;background:linear-gradient(90deg,#00fb4e 0px,#00fa4d 3px,#00fa4b 6px,#00f94a 9px,#00f948 12px,#00f947 15px,#00f945 18px,#00f944 21px,#00f942 24px,#00f941 27px,#00f93f 30px,#00fa3e 33px,#00fa3c 36px,#00fb3b 39px,#00fc39 42px,#00fc38 45px,#00fd36 48px,#00fd34 51px,#00fe33 54px,#00fe31 57px,#00ff2f 60px,#00ff2d 63px,#00ff2b 66px,#00ff29 69px,#00ff27 72px,#00ff25 75px,#00ff23 78px,#00ff21 81px,#00ff1f 84px,#00ff1d 87px,#0eff23 90px,#1fff2a 93px,#2fff31 96px,#3dff35 99px,#4aff31 102px,#57ff2e 105px,#65ff2a 108px,#73ff26 111px,#82ff22 114px,#91ff1e 117px,#a1ff19 120px,#b1ff14 123px,#c3ff0f 126px,#d5ff09 129px,#e7ff02 132px,#fbff00 135px,#ffef00 138px,#ffde00 141px,#ffce00 144px,#ffc000 147px,#ffb300 150px,#ffa800 153px,#ff9e00 156px,#ff9400 159px,#ff8b00 162px)"></i>
<i style="left:53px;top:127px;width:165px;background:linear-gradient(90deg,#00fb52 0px,#00fb50 3px,#00fb4f 6px,#00fa4d 9px,#00fa4c 12px,#00fa4a 15px,#00fa49 18px,#00fa47 21px,#00fa46 24px,#00fa44 27px,#00fa43 30px,#00fb41 33px,#00fb40 36px,#00fc3e 39px,#00fc3d 42px,#00fd3b 45px,#00fd39 48px,#00fe38 51px,#00fe36 54px,#00ff34 57px,#00ff32 60px,#00ff30 63px,#00ff2f 66px,#00ff2d 69px,#00ff2b 72px,#00ff29 75px,#00ff27 78px,#00ff25 81px,#00ff22 84px,#00ff20 87px,#11ff27 90px,#22ff2e 93px,#32ff35 96px,#41ff39 99px,#4eff36 102px,#5bff32 105px,#6aff2e 108px,#78ff2b 111px,#87ff27 114px,#97ff22 117px,#a7ff1e 120px,#b8ff19 123px,#caff14 126px,#dcff0e 129px,#efff08 132px,#fffa01 135px,#ffe700 138px,#ffd700 141px,#ffc700 144px,#ffba00 147px,#ffae00 150px,#ffa300 153px,#ff9800 156px,#ff8f00 159px,#ff8700 162px,#ff7f00 165px)"></i>
<i style="left:54px;top:129px;width:165px;background:linear-gradient(90deg,#00fc55 0px,#00fc54 3px,#00fb52 6px,#00fb51 9px,#00fb4f 12px,#00fb4e 15px,#00fb4c 18px,#00fb4b 21px,#00fb49 24px,#00fb48 27px,#00fb46 30px,#00fc44 33px,#00fc43 36px,#00fd41 39px,#00fd40 42px,#00fe3e 45px,#00fe3c 48px,#00fe3b 51px,#00ff39 54px,#00ff37 57px,#00ff35 60px,#00ff33 63px,#00ff31 66px,#00ff2f 69px,#00ff2d 72px,#00ff2b 75px,#00ff29 78px,#00ff27 81px,#00ff25 84px,#08ff27 87px,#1bff2e 90px,#2bff34 93px,#3bff3c 96px,#49ff3c 99px,#57ff39 102px,#65ff35 105px,#73ff32 108px,#82ff2e 111px,#92ff2a 114px,#a2ff26 117px,#b3ff21 120px,#c5ff1c 123px,#d7ff17 126px,#eaff12 129px,#ffff0c 132px,#ffec05 135px,#ffda00 138px,#ffca00 141px,#ffbc00 144px,#ffb000 147px,#ffa400 150px,#ff9a00 153px,#ff9000 156px,#ff8800 159px,#ff8000 162px,#ff7800 165px)"></i>
<i style="left:54px;top:131px;width:168px;background:linear-gradient(90deg,#00fd59 0px,#00fc58 3px,#00fc56 6px,#00fc55 9px,#00fc53 12px,#00fc52 15px,#00fc50 18px,#00fc4e 21px,#00fc4d 24px,#00fc4b 27px,#00fc4a 30px,#00fd48 33px,#00fd47 36px,#00fd45 39px,#00fe44 42px,#00fe42 45px,#00fe40 48px,#00ff3e 51px,#00ff3d 54px,#00ff3b 57px,#00ff39 60px,#00ff37 63px,#00ff35 66px,#00ff33 69px,#00ff31 72px,#00ff2f 75px,#00ff2d 78px,#00ff2b 81px,#00ff28 84px,#0cff2c 87px,#1eff32 90px,#2fff38 93px,#3fff40 96px,#4dff41 99px,#5bff3e 102px,#6aff3a 105px,#79ff36 108px,#88ff33 111px,#98ff2f 114px,#a9ff2b 117px,#baff26 120px,#ccff22 123px,#dfff1d 126px,#f3ff17 129px,#fff711 132px,#ffe40b 135px,#ffd304 138px,#ffc400 141px,#ffb600 144px,#ffaa00 147px,#ff9f00 150px,#ff9500 153px,#ff8c00 156px,#ff8300 159px,#ff7b00 162px,#ff7400 165px,#ff6d00 168px)"></i>
<i style="left:54px;top:133px;width:171px;background:linear-gradient(90deg,#00fd5d 0px,#00fd5c 3px,#00fd5a 6px,#00fd59 9px,#00fc57 12px,#00fc56 15px,#00fc54 18px,#00fc53 21px,#00fc51 24px,#00fd50 27px,#00fd4e 30px,#00fd4c 33px,#00fd4b 36px,#00fe49 39px,#00fe48 42px,#00fe46 45px,#00ff44 48px,#00ff42 51px,#00ff41 54px,#00ff3f 57px,#00ff3d 60px,#00ff3b 63px,#00ff39 66px,#00ff37 69px,#00ff35 72px,#00ff32 75px,#00ff30 78px,#00ff2e 81px,#00ff2c 84px,#10ff31 87px,#22ff37 90px,#33ff3d 93px,#43ff45 96px,#52ff46 99px,#60ff42 102px,#6fff3f 105px,#7eff3b 108px,#8eff38 111px,#9eff34 114px,#afff30 117px,#c1ff2b 120px,#d3ff27 123px,#e7ff22 126px,#fbff1d 129px,#ffef16 132px,#ffdd10 135px,#ffcd09 138px,#ffbe03 141px,#ffb000 144px,#ffa400 147px,#ff9a00 150px,#ff9000 153px,#ff8700 156px,#ff7f00 159px,#ff7700 162px,#ff7000 165px,#ff6900 168px,#ff6300 171px)"></i>
<i style="left:55px;top:135px;width:171px;background:linear-gradient(90deg,#00fe61 0px,#00fe5f 3px,#00fd5e 6px,#00fd5c 9px,#00fd5b 12px,#00fd59 15px,#00fd58 18px,#00fd56 21px,#00fd55 24px,#00fd53 27px,#00fe52 30px,#00fe50 33px,#00fe4e 36px,#00fe4d 39px,#00ff4b 42px,#00ff49 45px,#00ff48 48px,#00ff46 51px,#00ff44 54px,#00ff42 57px,#00ff40 60px,#00ff3e 63px,#00ff3c 66px,#00ff3a 69px,#00ff38 72px,#00ff36 75px,#00ff33 78px,#00ff31 81px,#07ff32 84px,#1aff38 87px,#2cff3d 90px,#3cff43 93px,#4dff4c 96px,#5bff49 99px,#6aff46 102px,#79ff43 105px,#89ff3f 108px,#99ff3b 111px,#aaff37 114px,#bcff33 117px,#ceff2f 120px,#e2ff2b 123px,#f6ff26 126px,#fff41f 129px,#ffe118 132px,#ffd012 135px,#ffc10c 138px,#ffb306 141px,#ffa600 144px,#ff9b00 147px,#ff9100 150px,#ff8800 153px,#ff7f00 156px,#ff7800 159px,#ff7000 162px,#ff6a00 165px,#ff6400 168px,#ff5e00 171px)"></i>
<i style="left:55px;top:137px;width:174px;background:linear-gradient(90deg,#00fe65 0px,#00fe64 3px,#00fe62 6px,#00fe61 9px,#00fe5f 12px,#00fe5e 15px,#00fe5c 18px,#00fe5b 21px,#00fe59 24px,#00fe58 27px,#00fe56 30px,#00fe54 33px,#00fe53 36px,#00ff51 39px,#00ff4f 42px,#00ff4e 45px,#00ff4c 48px,#00ff4a 51px,#00ff48 54px,#00ff46 57px,#00ff44 60px,#00ff42 63px,#00ff40 66px,#00ff3e 69px,#00ff3c 72px,#00ff3a 75px,#00ff38 78px,#00ff35 81px,#0bff38 84px,#1eff3d 87px,#2fff42 90px,#40ff48 93px,#51ff51 96px,#5fff4e 99px,#6fff4b 102px,#7eff48 105px,#8eff44 108px,#9fff40 111px,#b1ff3d 114px,#c3ff39 117px,#d6ff34 120px,#eaff30 123px,#feff2b 126px,#ffeb24 129px,#ffda1d 132px,#ffca16 135px,#ffbb10 138px,#ffae0b 141px,#ffa105 144px,#ff9600 147px,#ff8c00 150px,#ff8300 153px,#ff7b00 156px,#ff7300 159px,#ff6c00 162px,#ff6600 165px,#ff6000 168px,#ff5a00 171px,#ff5500 174px)"></i>
<i style="left:55px;top:139px;width:177px;background:linear-gradient(90deg,#00ff6a 0px,#00fe68 3px,#00fe67 6px,#00fe65 9px,#00fe64 12px,#00fe62 15px,#00fe61 18px,#00fe5f 21px,#00fe5e 24px,#00fe5c 27px,#00fe5b 30px,#00ff59 33px,#00ff57 36px,#00ff56 39px,#00ff54 42px,#00ff52 45px,#00ff50 48px,#00ff4e 51px,#00ff4d 54px,#00ff4b 57px,#00ff49 60px,#00ff47 63px,#00ff45 66px,#00ff42 69px,#00ff40 72px,#00ff3e 75px,#00ff3c 78px,#00ff3a 81px,#0fff3e 84px,#22ff42 87px,#33ff47 90px,#44ff4d 93px,#55ff55 96px,#64ff53 99px,#74ff50 102px,#84ff4d 105px,#94ff49 108px,#a6ff46 111px,#b8ff42 114px,#caff3e 117px,#deff3a 120px,#f2ff36 123px,#fff730 126px,#ffe428 129px,#ffd221 132px,#ffc31a 135px,#ffb514 138px,#ffa80f 141px,#ff9c09 144px,#ff9104 147px,#ff8700 150px,#ff7e00 153px,#ff7600 156px,#ff6f00 159px,#ff6800 162px,#ff6200 165px,#ff5c00 168px,#ff5700 171px,#ff5200 174px,#fd4c00 177px)"></i>
<i style="left:56px;top:141px;width:177px;background:linear-gradient(90deg,#00ff6e 0px,#00ff6c 3px,#00ff6b 6px,#00ff69 9px,#00ff68 12px,#00fe66 15px,#00ff65 18px,#00ff63 21px,#00ff62 24px,#00ff60 27px,#00ff5f 30px,#00ff5d 33px,#00ff5b 36px,#00ff5a 39px,#00ff58 42px,#00ff56 45px,#00ff54 48px,#00ff52 51px,#00ff51 54px,#00ff4f 57px,#00ff4d 60px,#00ff4b 63px,#00ff48 66px,#00ff46 69px,#00ff44 72px,#00ff42 75px,#00ff40 78px,#05ff40 81px,#1aff45 84px,#2cff49 87px,#3dff4e 90px,#4eff54 93px,#5fff5a 96px,#6eff57 99px,#7eff54 102px,#8fff51 105px,#a0ff4e 108px,#b2ff4a 111px,#c5ff46 114px,#d8ff42 117px,#edff3e 120px,#fffc39 123px,#ffe831 126px,#ffd629 129px,#ffc623 132px,#ffb81c 135px,#ffab17 138px,#ff9f11 141px,#ff940c 144px,#ff8a07 147px,#ff8001 150px,#ff7700 153px,#ff7000 156px,#ff6900 159px,#ff6200 162px,#ff5c00 165px,#ff5700 168px,#ff5200 171px,#ff4d00 174px,#fa4700 177px)"></i>
<i style="left:56px;top:143px;width:177px;background:linear-gradient(90deg,#00ff72 0px,#00ff71 3px,#00ff70 6px,#00ff6e 9px,#00ff6d 12px,#00ff6b 15px,#00ff6a 18px,#00ff68 21px,#00ff67 24px,#00ff65 27px,#00ff64 30px,#00ff62 33px,#00ff60 36px,#00ff5f 39px,#00ff5d 42px,#00ff5b 45px,#00ff59 48px,#00ff57 51px,#00ff55 54px,#00ff53 57px,#00ff51 60px,#00ff4f 63px,#00ff4d 66px,#00ff4b 69px,#00ff49 72px,#00ff47 75px,#00ff45 78px,#09ff46 81px,#1eff4b 84px,#30ff4e 87px,#41ff53 90px,#53ff59 93px,#64ff60 96px,#74ff5d 99px,#84ff5a 102px,#95ff57 105px,#a7ff53 108px,#b9ff50 111px,#ccff4c 114px,#e0ff48 117px,#f5ff44 120px,#fff33d 123px,#ffe035 126px,#ffcf2d 129px,#ffc026 132px,#ffb220 135px,#ffa51a 138px,#ff9a15 141px,#ff8f10 144px,#ff850b 147px,#ff7c06 150px,#ff7300 153px,#ff6b00 156px,#ff6500 159px,#ff5e00 162px,#ff5900 165px,#ff5300 168px,#ff4e00 171px,#fe4900 174px,#f94400 177px)"></i>
<i style="left:56px;top:145px;width:180px;background:linear-gradient(90deg,#00ff77 0px,#00ff76 3px,#00ff74 6px,#00ff73 9px,#00ff72 12px,#00ff70 15px,#00ff6f 18px,#00ff6d 21px,#00ff6c 24px,#00ff6a 27px,#00ff69 30px,#00ff67 33px,#00ff65 36px,#00ff64 39px,#00ff62 42px,#00ff60 45px,#00ff5e 48px,#00ff5c 51px,#00ff5a 54px,#00ff59 57px,#00ff57 60px,#00ff55 63px,#00ff52 66px,#00ff50 69px,#00ff4e 72px,#00ff4c 75px,#00ff4a 78px,#0eff4d 81px,#22ff50 84px,#34ff54 87px,#46ff58 90px,#57ff5e 93px,#69ff65 96px,#79ff62 99px,#8aff5f 102px,#9bff5c 105px,#adff59 108px,#c0ff55 111px,#d4ff52 114px,#e9ff4e 117px,#feff4a 120px,#ffeb41 123px,#ffd838 126px,#ffc831 129px,#ffb92a 132px,#ffac24 135px,#ffa01e 138px,#ff9518 141px,#ff8b13 144px,#ff810e 147px,#ff780a 150px,#ff7005 153px,#ff6700 156px,#ff6100 159px,#ff5b00 162px,#ff5500 165px,#ff5000 168px,#ff4b00 171px,#fc4600 174px,#f84000 177px,#f33b00 180px)"></i>
<i style="left:57px;top:147px;width:180px;background:linear-gradient(90deg,#00ff7c 0px,#00ff7a 3px,#00ff79 6px,#00ff78 9px,#00ff76 12px,#00ff75 15px,#00ff73 18px,#00ff72 21px,#00ff70 24px,#00ff6f 27px,#00ff6d 30px,#00ff6c 33px,#00ff6a 36px,#00ff68 39px,#00ff67 42px,#00ff65 45px,#00ff63 48px,#00ff61 51px,#00ff5f 54px,#00ff5d 57px,#00ff5b 60px,#00ff59 63px,#00ff57 66px,#00ff55 69px,#00ff53 72px,#00ff51 75px,#03ff4f 78px,#19ff54 81px,#2cff58 84px,#3eff5b 87px,#50ff5f 90px,#62ff66 93px,#73ff6a 96px,#84ff67 99px,#96ff64 102px,#a8ff61 105px,#bbff5e 108px,#cfff5a 111px,#e3ff57 114px,#f9ff53 117px,#fff04b 120px,#ffdd42 123px,#ffcc39 126px,#ffbc32 129px,#ffaf2b 132px,#ffa225 135px,#ff971f 138px,#ff8d1a 141px,#ff8315 144px,#ff7a10 147px,#ff720c 150px,#ff6a07 153px,#ff6202 156px,#ff5b00 159px,#ff5500 162px,#ff5000 165px,#ff4b00 168px,#ff4600 171px,#fa4100 174px,#f53b00 177px,#f03700 180px)"></i>
<i style="left:57px;top:149px;width:183px;background:linear-gradient(90deg,#00ff81 0px,#00ff80 3px,#00ff7e 6px,#00ff7d 9px,#00ff7c 12px,#00ff7a 15px,#00ff79 18px,#00ff77 21px,#00ff76 24px,#00ff74 27px,#00ff73 30px,#00ff71 33px,#00ff70 36px,#00ff6e 39px,#00ff6c 42px,#00ff6a 45px,#00ff69 48px,#00ff67 51px,#00ff65 54px,#00ff63 57px,#00ff61 60px,#00ff5f 63px,#00ff5d 66px,#00ff5b 69px,#00ff59 72px,#00ff56 75px,#08ff57 78px,#1dff5b 81px,#30ff5e 84px,#43ff61 87px,#55ff65 90px,#67ff6b 93px,#79ff70 96px,#8aff6d 99px,#9cff6a 102px,#afff67 105px,#c2ff64 108px,#d7ff61 111px,#ecff5d 114px,#fffc58 117px,#ffe74e 120px,#ffd545 123px,#ffc53d 126px,#ffb635 129px,#ffa92f 132px,#ff9d28 135px,#ff9223 138px,#ff881d 141px,#ff7f18 144px,#ff7614 147px,#ff6e0f 150px,#ff660b 153px,#ff5f06 156px,#ff5802 159px,#ff5200 162px,#ff4c00 165px,#ff4800 168px,#fd4300 171px,#f83d00 174px,#f33800 177px,#ee3400 180px,#e92f00 183px)"></i>
<i style="left:57px;top:151px;width:186px;background:linear-gradient(90deg,#00ff86 0px,#00ff85 3px,#00ff84 6px,#00ff83 9px,#00ff81 12px,#00ff80 15px,#00ff7e 18px,#00ff7d 21px,#00ff7c 24px,#00ff7a 27px,#00ff78 30px,#00ff77 33px,#00ff75 36px,#00ff74 39px,#00ff72 42px,#00ff70 45px,#00ff6e 48px,#00ff6d 51px,#00ff6b 54px,#00ff69 57px,#00ff67 60px,#00ff65 63px,#00ff63 66px,#00ff61 69px,#00ff5f 72px,#00ff5c 75px,#0cff5e 78px,#21ff61 81px,#35ff64 84px,#47ff67 87px,#5aff6b 90px,#6cff71 93px,#7fff76 96px,#90ff73 99px,#a3ff71 102px,#b6ff6e 105px,#caff6a 108px,#dfff67 111px,#f5ff64 114px,#fff35c 117px,#ffdf52 120px,#ffcd48 123px,#ffbe40 126px,#ffb039 129px,#ffa332 132px,#ff982c 135px,#ff8d26 138px,#ff8321 141px,#ff7a1c 144px,#ff7217 147px,#ff6a12 150px,#ff630e 153px,#ff5c0a 156px,#ff5505 159px,#ff4e01 162px,#ff4900 165px,#ff4400 168px,#fc3f00 171px,#f73a00 174px,#f23500 177px,#ed3100 180px,#e82d00 183px,#e32900 186px)"></i>
<i style="left:58px;top:153px;width:186px;background:linear-gradient(90deg,#00ff8c 0px,#00ff8a 3px,#00ff89 6px,#00ff88 9px,#00ff87 12px,#00ff85 15px,#00ff84 18px,#00ff82 21px,#00ff81 24px,#00ff7f 27px,#00ff7e 30px,#00ff7c 33px,#00ff7b 36px,#00ff79 39px,#00ff78 42px,#00ff76 45px,#00ff74 48px,#00ff72 51px,#00ff70 54px,#00ff6f 57px,#00ff6d 60px,#00ff6b 63px,#00ff69 66px,#00ff67 69px,#00ff64 72px,#00ff62 75px,#18ff67 78px,#2cff69 81px,#40ff6c 84px,#52ff6f 87px,#65ff73 90px,#78ff7a 93px,#8aff7c 96px,#9dff79 99px,#b0ff76 102px,#c4ff73 105px,#d9ff70 108px,#efff6d 111px,#fff867 114px,#ffe35c 117px,#ffd152 120px,#ffc149 123px,#ffb241 126px,#ffa53a 129px,#ff9a33 132px,#ff8f2d 135px,#ff8527 138px,#ff7c22 141px,#ff731d 144px,#ff6c18 147px,#ff6414 150px,#ff5d10 153px,#ff570c 156px,#ff5008 159px,#ff4a03 162px,#ff4400 165px,#fe3f00 168px,#f93a00 171px,#f43500 174px,#ef3100 177px,#ea2d00 180px,#e52900 183px,#e02500 186px)"></i>
<i style="left:58px;top:155px;width:189px;background:linear-gradient(90deg,#00ff92 0px,#00ff90 3px,#00ff8f 6px,#00ff8e 9px,#00ff8d 12px,#00ff8b 15px,#00ff8a 18px,#00ff89 21px,#00ff87 24px,#00ff86 27px,#00ff84 30px,#00ff83 33px,#00ff81 36px,#00ff80 39px,#00ff7e 42px,#00ff7c 45px,#00ff7b 48px,#00ff79 51px,#00ff77 54px,#00ff75 57px,#00ff73 60px,#00ff71 63px,#00ff6f 66px,#00ff6d 69px,#00ff6b 72px,#05ff6b 75px,#1cff6e 78px,#31ff70 81px,#44ff73 84px,#57ff75 87px,#6bff79 90px,#7eff80 93px,#91ff82 96px,#a4ff80 99px,#b7ff7d 102px,#ccff7a 105px,#e2ff77 108px,#f8ff74 111px,#ffef6a 114px,#ffdb5f 117px,#ffca55 120px,#ffba4c 123px,#ffac44 126px,#ffa03d 129px,#ff9436 132px,#ff8a30 135px,#ff802a 138px,#ff7825 141px,#ff6f20 144px,#ff681b 147px,#ff6117 150px,#ff5a13 153px,#ff540f 156px,#ff4e0b 159px,#ff4807 162px,#ff4203 165px,#fd3c00 168px,#f83700 171px,#f33200 174px,#ee2e00 177px,#e92a00 180px,#e42600 183px,#df2300 186px,#da1f00 189px)"></i>
<i style="left:59px;top:157px;width:189px;background:linear-gradient(90deg,#00ff97 0px,#00ff96 3px,#00ff95 6px,#00ff94 9px,#00ff92 12px,#00ff91 15px,#00ff90 18px,#00ff8f 21px,#00ff8d 24px,#00ff8c 27px,#00ff8a 30px,#00ff89 33px,#00ff87 36px,#00ff86 39px,#00ff84 42px,#00ff83 45px,#00ff81 48px,#00ff7f 51px,#00ff7d 54px,#00ff7c 57px,#00ff7a 60px,#00ff78 63px,#00ff76 66px,#00ff74 69px,#00ff72 72px,#12ff74 75px,#28ff77 78px,#3cff78 81px,#50ff7b 84px,#63ff7d 87px,#77ff82 90px,#8bff8b 93px,#9eff88 96px,#b1ff86 99px,#c6ff83 102px,#dcff80 105px,#f3ff7d 108px,#fff475 111px,#ffdf69 114px,#ffcd5e 117px,#ffbd55 120px,#ffaf4c 123px,#ffa244 126px,#ff963d 129px,#ff8c37 132px,#ff8231 135px,#ff792b 138px,#ff7126 141px,#ff6921 144px,#ff621d 147px,#ff5b18 150px,#ff5514 153px,#ff4f10 156px,#ff490c 159px,#ff4309 162px,#ff3e05 165px,#fa3700 168px,#f53200 171px,#f02e00 174px,#eb2a00 177px,#e62600 180px,#e12200 183px,#dc1f00 186px,#d71c00 189px)"></i>
<i style="left:59px;top:159px;width:192px;background:linear-gradient(90deg,#00ff9e 0px,#00ff9d 3px,#00ff9b 6px,#00ff9a 9px,#00ff99 12px,#00ff98 15px,#00ff97 18px,#00ff95 21px,#00ff94 24px,#00ff93 27px,#00ff91 30px,#00ff90 33px,#00ff8e 36px,#00ff8d 39px,#00ff8b 42px,#00ff8a 45px,#00ff88 48px,#00ff87 51px,#00ff85 54px,#00ff83 57px,#00ff81 60px,#00ff7f 63px,#00ff7d 66px,#00ff7b 69px,#00ff79 72px,#17ff7d 75px,#2cff7f 78px,#41ff80 81px,#55ff82 84px,#69ff85 87px,#7dff89 90px,#91ff91 93px,#a5ff90 96px,#b9ff8d 99px,#ceff8b 102px,#e5ff88 105px,#fcff85 108px,#ffeb78 111px,#ffd76c 114px,#ffc661 117px,#ffb658 120px,#ffa94f 123px,#ff9c47 126px,#ff9140 129px,#ff873a 132px,#ff7d34 135px,#ff752e 138px,#ff6d29 141px,#ff6524 144px,#ff5e1f 147px,#ff581b 150px,#ff5217 153px,#ff4c13 156px,#ff460f 159px,#ff410c 162px,#fe3c08 165px,#f93504 168px,#f42f00 171px,#ef2b00 174px,#ea2700 177px,#e52300 180px,#e02000 183px,#db1d00 186px,#d61a00 189px,#d11700 192px)"></i>
<i style="left:59px;top:161px;width:195px;background:linear-gradient(90deg,#00ffa4 0px,#00ffa3 3px,#00ffa2 6px,#00ffa1 9px,#00ffa0 12px,#00ff9f 15px,#00ff9e 18px,#00ff9c 21px,#00ff9b 24px,#00ff9a 27px,#00ff99 30px,#00ff97 33px,#00ff96 36px,#00ff94 39px,#00ff93 42px,#00ff91 45px,#00ff90 48px,#00ff8e 51px,#00ff8d 54px,#00ff8b 57px,#00ff89 60px,#00ff87 63px,#00ff85 66px,#00ff84 69px,#03ff82 72px,#1cff85 75px,#31ff87 78px,#46ff88 81px,#5aff8a 84px,#6eff8c 87px,#83ff90 90px,#98ff98 93px,#acff97 96px,#c1ff95 99px,#d7ff92 102px,#eeff90 105px,#fff889 108px,#ffe27b 111px,#ffcf6f 114px,#ffbe64 117px,#ffb05b 120px,#ffa252 123px,#ff964a 126px,#ff8c43 129px,#ff823c 132px,#ff7936 135px,#ff7031 138px,#ff692c 141px,#ff6127 144px,#ff5b22 147px,#ff541e 150px,#ff4f1a 153px,#ff4916 156px,#ff4412 159px,#ff3e0e 162px,#fd390b 165px,#f83307 168px,#f32e03 171px,#ee2800 174px,#e92400 177px,#e42100 180px,#df1e00 183px,#da1b00 186px,#d51800 189px,#d01500 192px,#cb1300 195px)"></i>
<i style="left:60px;top:163px;width:195px;background:linear-gradient(90deg,#00ffab 0px,#00ffaa 3px,#00ffa9 6px,#00ffa8 9px,#00ffa7 12px,#00ffa6 15px,#00ffa5 18px,#00ffa3 21px,#00ffa2 24px,#00ffa1 27px,#00ffa0 30px,#00ff9e 33px,#00ff9d 36px,#00ff9c 39px,#00ff9a 42px,#00ff99 45px,#00ff97 48px,#00ff96 51px,#00ff94 54px,#00ff93 57px,#00ff91 60px,#00ff8f 63px,#00ff8d 66px,#00ff8c 69px,#11ff8d 72px,#28ff8f 75px,#3dff90 78px,#52ff91 81px,#67ff93 84px,#7bff95 87px,#90ff99 90px,#a6ffa0 93px,#bbff9e 96px,#d1ff9c 99px,#e8ff9a 102px,#fffe97 105px,#ffe787 108px,#ffd37a 111px,#ffc26e 114px,#ffb264 117px,#ffa55a 120px,#ff9852 123px,#ff8d4a 126px,#ff8343 129px,#ff7a3d 132px,#ff7237 135px,#ff6a32 138px,#ff622d 141px,#ff5c28 144px,#ff5523 147px,#ff4f1f 150px,#ff4a1b 153px,#ff4417 156px,#ff3f13 159px,#ff3a10 162px,#fa350c 165px,#f52f08 168px,#f02a05 171px,#eb2501 174px,#e62100 177px,#e11d00 180px,#dc1a00 183px,#d71800 186px,#d21500 189px,#cd1300 192px,#c81100 195px)"></i>
<i style="left:60px;top:165px;width:198px;background:linear-gradient(90deg,#00ffb2 0px,#00ffb1 3px,#00ffb0 6px,#00ffaf 9px,#00ffae 12px,#00ffad 15px,#00ffac 18px,#00ffab 21px,#00ffaa 24px,#00ffa9 27px,#00ffa8 30px,#00ffa7 33px,#00ffa5 36px,#00ffa4 39px,#00ffa3 42px,#00ffa1 45px,#00ffa0 48px,#00ff9f 51px,#00ff9d 54px,#00ff9b 57px,#00ff9a 60px,#00ff98 63px,#00ff97 66px,#00ff95 69px,#16ff97 72px,#2dff98 75px,#42ff99 78px,#57ff9a 81px,#6dff9b 84px,#82ff9d 87px,#97ffa1 90px,#adffa9 93px,#c3ffa7 96px,#daffa5 99px,#f2ffa2 102px,#fff499 105px,#ffde8a 108px,#ffcb7d 111px,#ffba71 114px,#ffac66 117px,#ff9f5d 120px,#ff9355 123px,#ff884d 126px,#ff7e46 129px,#ff7540 132px,#ff6d3a 135px,#ff6634 138px,#ff5f2f 141px,#ff582a 144px,#ff5226 147px,#ff4c21 150px,#ff471d 153px,#ff421a 156px,#ff3d16 159px,#fe3812 162px,#f9320e 165px,#f42d0b 168px,#ef2808 171px,#ea2304 174px,#e51f01 177px,#e01b00 180px,#db1800 183px,#d61600 186px,#d11300 189px,#cc1100 192px,#c70f00 195px,#c20d00 198px)"></i>
<i style="left:61px;top:167px;width:198px;background:linear-gradient(90deg,#00ffba 0px,#00ffb9 3px,#00ffb8 6px,#00ffb7 9px,#00ffb6 12px,#00ffb5 15px,#00ffb4 18px,#00ffb3 21px,#00ffb2 24px,#00ffb1 27px,#00ffb0 30px,#00ffaf 33px,#00ffae 36px,#00ffac 39px,#00ffab 42px,#00ffaa 45px,#00ffa9 48px,#00ffa7 51px,#00ffa6 54px,#00ffa4 57px,#00ffa3 60px,#00ffa1 63px,#00ffa0 66px,#0affa0 69px,#23ffa1 72px,#39ffa2 75px,#4fffa3 78px,#64ffa4 81px,#7affa5 84px,#90ffa7 87px,#a6ffac 90px,#bcffb1 93px,#d3ffaf 96px,#ebffad 99px,#fffaa7 102px,#ffe396 105px,#ffcf88 108px,#ffbe7b 111px,#ffae70 114px,#ffa166 117px,#ff955d 120px,#ff8a55 123px,#ff804d 126px,#ff7746 129px,#ff6e40 132px,#ff673a 135px,#ff5f35 138px,#ff5930 141px,#ff532b 144px,#ff4d27 147px,#ff4723 150px,#ff421f 153px,#ff3d1b 156px,#ff3917 159px,#fb3313 162px,#f62e10 165px,#f1290c 168px,#ec2509 171px,#e72006 174px,#e21c03 177px,#dd1800 180px,#d81500 183px,#d31300 186px,#ce1000 189px,#c90e00 192px,#c40c00 195px,#bf0b00 198px)"></i>
<i style="left:61px;top:169px;width:201px;background:linear-gradient(90deg,#00ffc2 0px,#00ffc1 3px,#00ffc0 6px,#00ffbf 9px,#00ffbe 12px,#00ffbe 15px,#00ffbd 18px,#00ffbc 21px,#00ffbb 24px,#00ffba 27px,#00ffb9 30px,#00ffb8 33px,#00ffb7 36px,#00ffb6 39px,#00ffb5 42px,#00ffb3 45px,#00ffb2 48px,#00ffb1 51px,#00ffb0 54px,#00ffae 57px,#00ffad 60px,#00ffac 63px,#00ffaa 66px,#10ffab 69px,#28ffac 72px,#3effac 75px,#55ffad 78px,#6bffad 81px,#81ffae 84px,#97ffb0 87px,#aeffb5 90px,#c5ffba 93px,#ddffb8 96px,#f6ffb6 99px,#ffefa9 102px,#ffda99 105px,#ffc78a 108px,#ffb67e 111px,#ffa873 114px,#ff9b68 117px,#ff8f5f 120px,#ff8457 123px,#ff7b50 126px,#ff7249 129px,#ff6a43 132px,#ff633d 135px,#ff5c37 138px,#ff5532 141px,#ff4f2e 144px,#ff4a29 147px,#ff4425 150px,#ff3f21 153px,#ff3b1d 156px,#ff3619 159px,#fa3116 162px,#f52c12 165px,#f0270e 168px,#eb230b 171px,#e61f08 174px,#e11b05 177px,#dc1702 180px,#d71300 183px,#d21100 186px,#cd0f00 189px,#c80d00 192px,#c30b00 195px,#be0900 198px,#b90700 201px)"></i>
<i style="left:62px;top:171px;width:201px;background:linear-gradient(90deg,#00ffca 0px,#00ffc9 3px,#00ffc8 6px,#00ffc8 9px,#00ffc7 12px,#00ffc6 15px,#00ffc5 18px,#00ffc5 21px,#00ffc4 24px,#00ffc3 27px,#00ffc2 30px,#00ffc1 33px,#00ffc0 36px,#00ffbf 39px,#00ffbe 42px,#00ffbd 45px,#00ffbc 48px,#00ffbb 51px,#00ffba 54px,#00ffb9 57px,#00ffb7 60px,#00ffb6 63px,#02ffb5 66px,#1dffb7 69px,#35ffb7 72px,#4bffb7 75px,#62ffb8 78px,#78ffb8 81px,#8fffb9 84px,#a6ffbb 87px,#beffc1 90px,#d6ffc3 93px,#efffc1 96px,#fff5b8 99px,#ffdea6 102px,#ffca96 105px,#ffb988 108px,#ffaa7c 111px,#ff9d72 114px,#ff9168 117px,#ff865f 120px,#ff7c57 123px,#ff7350 126px,#ff6b49 129px,#ff6343 132px,#ff5c3d 135px,#ff5638 138px,#ff5033 141px,#ff4a2e 144px,#ff452a 147px,#ff4026 150px,#ff3b22 153px,#ff361e 156px,#fc311a 159px,#f72d16 162px,#f22813 165px,#ed240f 168px,#e81f0c 171px,#e31c09 174px,#de1806 177px,#d91404 180px,#d41000 183px,#cf0e00 186px,#ca0c00 189px,#c50a00 192px,#c00800 195px,#bb0700 198px,#b60500 201px)"></i>
<i style="left:62px;top:173px;width:204px;background:linear-gradient(90deg,#00ffd3 0px,#00ffd2 3px,#00ffd1 6px,#00ffd1 9px,#00ffd0 12px,#00ffd0 15px,#00ffcf 18px,#00ffce 21px,#00ffcd 24px,#00ffcd 27px,#00ffcc 30px,#00ffcb 33px,#00ffca 36px,#00ffca 39px,#00ffc9 42px,#00ffc8 45px,#00ffc7 48px,#00ffc6 51px,#00ffc5 54px,#00ffc4 57px,#00ffc3 60px,#00ffc2 63px,#08ffc2 66px,#22ffc2 69px,#3affc3 72px,#51ffc3 75px,#68ffc3 78px,#7fffc3 81px,#97ffc4 84px,#aeffc5 87px,#c7ffca 90px,#e0ffcd 93px,#faffcb 96px,#ffebba 99px,#ffd5a8 102px,#ffc299 105px,#ffb28b 108px,#ffa37f 111px,#ff9774 114px,#ff8b6a 117px,#ff8162 120px,#ff775a 123px,#ff6f52 126px,#ff674c 129px,#ff5f45 132px,#ff5940 135px,#ff523a 138px,#ff4c35 141px,#ff4731 144px,#ff422c 147px,#ff3d28 150px,#ff3824 153px,#ff3420 156px,#fb2f1c 159px,#f62a18 162px,#f12615 165px,#ec2111 168px,#e71e0e 171px,#e21a0b 174px,#dd1608 177px,#d81306 180px,#d31003 183px,#ce0c00 186px,#c90a00 189px,#c40900 192px,#bf0700 195px,#ba0500 198px,#b50400 201px,#b00300 204px)"></i>
<i style="left:63px;top:175px;width:204px;background:linear-gradient(90deg,#00ffdc 0px,#00ffdb 3px,#00ffdb 6px,#00ffda 9px,#00ffda 12px,#00ffd9 15px,#00ffd9 18px,#00ffd8 21px,#00ffd7 24px,#00ffd7 27px,#00ffd6 30px,#00ffd6 33px,#00ffd5 36px,#00ffd4 39px,#00ffd4 42px,#00ffd3 45px,#00ffd2 48px,#00ffd1 51px,#00ffd1 54px,#00ffd0 57px,#00ffcf 60px,#00ffce 63px,#17ffcf 66px,#30ffcf 69px,#48ffcf 72px,#5fffcf 75px,#77ffcf 78px,#8effcf 81px,#a7ffd0 84px,#bfffd1 87px,#d9ffd8 90px,#f3ffd7 93px,#fff1ca 96px,#ffdab6 99px,#ffc6a5 102px,#ffb596 105px,#ffa689 108px,#ff997d 111px,#ff8d73 114px,#ff826a 117px,#ff7861 120px,#ff6f59 123px,#ff6752 126px,#ff604c 129px,#ff5946 132px,#ff5340 135px,#ff4d3b 138px,#ff4736 141px,#ff4231 144px,#ff3d2d 147px,#ff3929 150px,#ff3425 153px,#fd3021 156px,#f82b1d 159px,#f32619 162px,#ee2216 165px,#e91e12 168px,#e41a0f 171px,#df170c 174px,#da1409 177px,#d51107 180px,#d00e04 183px,#cb0b02 186px,#c60800 189px,#c10600 192px,#bc0500 195px,#b70400 198px,#b20200 201px,#ad0100 204px)"></i>
<i style="left:63px;top:177px;width:207px;background:linear-gradient(90deg,#00ffe5 0px,#00ffe5 3px,#00ffe5 6px,#00ffe4 9px,#00ffe4 12px,#00ffe4 15px,#00ffe3 18px,#00ffe3 21px,#00ffe2 24px,#00ffe2 27px,#00ffe1 30px,#00ffe1 33px,#00ffe1 36px,#00ffe0 39px,#00ffe0 42px,#00ffdf 45px,#00ffde 48px,#00ffde 51px,#00ffdd 54px,#00ffdd 57px,#00ffdc 60px,#00ffdb 63px,#1cffdc 66px,#36ffdc 69px,#4effdc 72px,#66ffdc 75px,#7effdc 78px,#96ffdc 81px,#afffdc 84px,#c9ffdd 87px,#e3ffe3 90px,#feffe2 93px,#ffe6cc 96px,#ffd0b8 99px,#ffbea7 102px,#ffad98 105px,#ff9f8b 108px,#ff9280 111px,#ff8775 114px,#ff7d6c 117px,#ff7364 120px,#ff6b5c 123px,#ff6355 126px,#ff5c4e 129px,#ff5548 132px,#ff4f42 135px,#ff493d 138px,#ff4438 141px,#ff3f34 144px,#ff3a2f 147px,#ff362b 150px,#ff3227 153px,#fc2d23 156px,#f7281f 159px,#f2241b 162px,#ed2018 165px,#e81c14 168px,#e31911 171px,#de150e 174px,#d9120b 177px,#d40f09 180px,#cf0c06 183px,#ca0a04 186px,#c50701 189px,#c00500 192px,#bb0300 195px,#b60200 198px,#b10100 201px,#ac0000 204px,#a70000 207px)"></i>
<i style="left:64px;top:179px;width:207px;background:linear-gradient(90deg,#00ffef 0px,#00ffef 3px,#00ffef 6px,#00ffef 9px,#00ffef 12px,#00ffee 15px,#00ffee 18px,#00ffee 21px,#00ffee 24px,#00ffed 27px,#00ffed 30px,#00ffed 33px,#00ffed 36px,#00ffec 39px,#00ffec 42px,#00ffec 45px,#00ffeb 48px,#00ffeb 51px,#00ffeb 54px,#00ffea 57px,#00ffea 60px,#10ffea 63px,#2bffea 66px,#44ffea 69px,#5cffea 72px,#75ffea 75px,#8effea 78px,#a7ffea 81px,#c1ffea 84px,#dcffeb 87px,#f7ffee 90px,#ffecdc 93px,#ffd5c7 96px,#ffc1b4 99px,#ffb0a4 102px,#ffa196 105px,#ff9489 108px,#ff887e 111px,#ff7e74 114px,#ff746b 117px,#ff6c63 120px,#ff645c 123px,#ff5d55 126px,#ff564e 129px,#ff5048 132px,#ff4a43 135px,#ff443e 138px,#ff3f39 141px,#ff3a34 144px,#ff3630 147px,#ff322c 150px,#fe2d28 153px,#f92924 156px,#f4241f 159px,#ef201c 162px,#ea1d18 165px,#e51915 168px,#e01612 171px,#db130f 174px,#d6100c 177px,#d10d0a 180px,#cc0a07 183px,#c70805 186px,#c20502 189px,#bd0300 192px,#b80200 195px,#b30000 198px,#ae0000 201px,#a90000 204px,#a40000 207px)"></i>
<i style="left:64px;top:181px;width:210px;background:linear-gradient(90deg,#00fffa 0px,#00fffa 3px,#00fffa 6px,#00fffa 9px,#00fffa 12px,#00fffa 15px,#00fffa 18px,#00fffa 21px,#00fffa 24px,#00fffa 27px,#00fffa 30px,#00fffa 33px,#00fffa 36px,#00fffa 39px,#00fffa 42px,#00fffa 45px,#00fffa 48px,#00fffa 51px,#00fff9 54px,#00fff9 57px,#00fff9 60px,#16fff9 63px,#31fffa 66px,#4afffa 69px,#63fffa 72px,#7cfffa 75px,#96fffa 78px,#b0fffa 81px,#cbfffa 84px,#e6fffa 87px,#fffbf7 90px,#ffe1de 93px,#ffccc8 96px,#ffb9b6 99px,#ffa9a6 102px,#ff9b98 105px,#ff8e8c 108px,#ff8381 111px,#ff7977 114px,#ff6f6e 117px,#ff6765 120px,#ff5f5e 123px,#ff5857 126px,#ff5250 129px,#ff4c4b 132px,#ff4645 135px,#ff4140 138px,#ff3c3b 141px,#ff3836 144px,#ff3332 147px,#ff2f2e 150px,#fc2b2a 153px,#f72625 156px,#f32221 159px,#ee1e1d 162px,#e91b1a 165px,#e41717 168px,#df1413 171px,#da1111 174px,#d50e0e 177px,#d00c0b 180px,#cb0909 183px,#c60706 186px,#c10504 189px,#bc0202 192px,#b70000 195px,#b20000 198px,#ad0000 201px,#a80000 204px,#a30000 207px,#9e0000 210px)"></i>
<i style="left:64px;top:183px;width:213px;background:linear-gradient(90deg,#00f9ff 0px,#00f9ff 3px,#00f8ff 6px,#00f8ff 9px,#00f8ff 12px,#00f8ff 15px,#00f8ff 18px,#00f8ff 21px,#00f7ff 24px,#00f7ff 27px,#00f7ff 30px,#00f7ff 33px,#00f7ff 36px,#00f6ff 39px,#00f6ff 42px,#00f6ff 45px,#00f6ff 48px,#00f5ff 51px,#00f5ff 54px,#00f5ff 57px,#00f5ff 60px,#1bf5ff 63px,#35f5ff 66px,#4ef5ff 69px,#67f4ff 72px,#80f4ff 75px,#9af4ff 78px,#b4f4ff 81px,#cef4ff 84px,#e9f4ff 87px,#fff0f7 90px,#ffd7dc 93px,#ffc2c6 96px,#ffb1b4 99px,#ffa1a4 102px,#ff9496 105px,#ff878a 108px,#ff7d7f 111px,#ff7375 114px,#ff6a6c 117px,#ff6264 120px,#ff5b5c 123px,#ff5455 126px,#ff4e4f 129px,#ff4849 132px,#ff4244 135px,#ff3d3f 138px,#ff383a 141px,#ff3435 144px,#ff3031 147px,#ff2c2d 150px,#fb2728 153px,#f62324 156px,#f11f20 159px,#ec1b1c 162px,#e71819 165px,#e21515 168px,#dd1112 171px,#d80f0f 174px,#d30c0d 177px,#ce090a 180px,#c90708 183px,#c40505 186px,#bf0203 189px,#bb0000 192px,#b60000 195px,#b10000 198px,#ac0000 201px,#a70000 204px,#a20000 207px,#9d0000 210px,#980000 213px)"></i>
<i style="left:65px;top:185px;width:213px;background:linear-gradient(90deg,#00eeff 0px,#00eeff 3px,#00edff 6px,#00edff 9px,#00edff 12px,#00ecff 15px,#00ecff 18px,#00ebff 21px,#00ebff 24px,#00ebff 27px,#00eaff 30px,#00eaff 33px,#00e9ff 36px,#00e9ff 39px,#00e8ff 42px,#00e8ff 45px,#00e7ff 48px,#00e7ff 51px,#00e6ff 54px,#00e6ff 57px,#0de6ff 60px,#28e6ff 63px,#41e6ff 66px,#59e6ff 69px,#72e6ff 72px,#8ae5ff 75px,#a3e5ff 78px,#bde5ff 81px,#d7e6ff 84px,#f0eaff 87px,#ffdcee 90px,#ffc6d4 93px,#ffb3bf 96px,#ffa3ad 99px,#ff959e 102px,#ff8990 105px,#ff7d84 108px,#ff737a 111px,#ff6a70 114px,#ff6268 117px,#ff5b60 120px,#ff5458 123px,#ff4d52 126px,#ff474b 129px,#ff4246 132px,#ff3d40 135px,#ff383b 138px,#ff3337 141px,#ff2f32 144px,#ff2b2e 147px,#fd272a 150px,#f82225 153px,#f31e21 156px,#ee1a1d 159px,#e91719 162px,#e41416 165px,#e01113 168px,#db0e10 171px,#d60b0d 174px,#d1080a 177px,#cc0608 180px,#c70305 183px,#c20102 186px,#bd0001 189px,#b80001 192px,#b30000 195px,#ae0000 198px,#a90000 201px,#a40000 204px,#9f0000 207px,#9a0000 210px,#950000 213px)"></i>
<i style="left:65px;top:187px;width:216px;background:linear-gradient(90deg,#00e3ff 0px,#00e3ff 3px,#00e2ff 6px,#00e2ff 9px,#00e1ff 12px,#00e1ff 15px,#00e0ff 18px,#00e0ff 21px,#00dfff 24px,#00dfff 27px,#00deff 30px,#00deff 33px,#00ddff 36px,#00dcff 39px,#00dbff 42px,#00dbff 45px,#00daff 48px,#00d9ff 51px,#00d8ff 54px,#00d8ff 57px,#12d8ff 60px,#2cd8ff 63px,#44d8ff 66px,#5cd8ff 69px,#74d8ff 72px,#8cd8ff 75px,#a5d8ff 78px,#bed8ff 81px,#d7dbff 84px,#efdeff 87px,#ffd2ee 90px,#ffbdd4 93px,#ffabbf 96px,#ff9bad 99px,#ff8e9d 102px,#ff828f 105px,#ff7783 108px,#ff6d79 111px,#ff656f 114px,#ff5d66 117px,#ff565f 120px,#ff4f57 123px,#ff4951 126px,#ff434a 129px,#ff3d45 132px,#ff383f 135px,#ff343a 138px,#ff2f35 141px,#ff2b31 144px,#ff272d 147px,#fc2328 150px,#f71f24 153px,#f21b1f 156px,#ed171c 159px,#e81418 162px,#e31115 165px,#de0e11 168px,#d90b0e 171px,#d4080b 174px,#cf0509 177px,#ca0306 180px,#c50003 183px,#c00002 186px,#bb0002 189px,#b60001 192px,#b10001 195px,#ac0000 198px,#a70000 201px,#a30000 204px,#9e0000 207px,#990000 210px,#940000 213px,#8f0000 216px)"></i>
<i style="left:66px;top:189px;width:216px;background:linear-gradient(90deg,#00d9ff 0px,#00d9ff 3px,#00d8ff 6px,#00d7ff 9px,#00d7ff 12px,#00d6ff 15px,#00d5ff 18px,#00d5ff 21px,#00d4ff 24px,#00d3ff 27px,#00d2ff 30px,#00d1ff 33px,#00d1ff 36px,#00d0ff 39px,#00cfff 42px,#00ceff 45px,#00cdff 48px,#00ccff 51px,#00cbff 54px,#04caff 57px,#1fcbff 60px,#38cbff 63px,#4fcbff 66px,#67cbff 69px,#7ecbff 72px,#96cbff 75px,#aeccff 78px,#c6cfff 81px,#dcd3ff 84px,#f8d2ff 87px,#ffc0e6 90px,#ffaecd 93px,#ff9db8 96px,#ff8fa7 99px,#ff8398 102px,#ff788b 105px,#ff6e7f 108px,#ff6575 111px,#ff5d6c 114px,#ff5563 117px,#ff4e5b 120px,#ff4854 123px,#ff424e 126px,#ff3d48 129px,#ff3842 132px,#ff333d 135px,#ff2e38 138px,#ff2a33 141px,#ff262e 144px,#fe222a 147px,#f91e25 150px,#f41a21 153px,#ef161d 156px,#ea1319 159px,#e51016 162px,#e00c12 165px,#db0a0f 168px,#d6070c 171px,#d10409 174px,#cc0206 177px,#c80004 180px,#c30003 183px,#be0002 186px,#b90002 189px,#b40001 192px,#af0001 195px,#aa0000 198px,#a50000 201px,#a00000 204px,#9b0000 207px,#960000 210px,#910000 213px,#8c0000 216px)"></i>
<i style="left:67px;top:191px;width:216px;background:linear-gradient(90deg,#00cfff 0px,#00ceff 3px,#00ceff 6px,#00cdff 9px,#00ccff 12px,#00cbff 15px,#00caff 18px,#00caff 21px,#00c9ff 24px,#00c8ff 27px,#00c7ff 30px,#00c6ff 33px,#00c5ff 36px,#00c4ff 39px,#00c2ff 42px,#00c1ff 45px,#00c0ff 48px,#00bfff 51px,#00beff 54px,#13beff 57px,#2cbfff 60px,#43bfff 63px,#5abfff 66px,#70bfff 69px,#87c0ff 72px,#9fc1ff 75px,#b7c3ff 78px,#ccc9ff 81px,#e3c8ff 84px,#ffc4fb 87px,#ffb1de 90px,#ffa0c6 93px,#ff91b3 96px,#ff84a2 99px,#ff7894 102px,#ff6e87 105px,#ff657c 108px,#ff5c71 111px,#ff5568 114px,#ff4e60 117px,#ff4758 120px,#ff4151 123px,#ff3c4b 126px,#ff3745 129px,#ff323f 132px,#ff2d3a 135px,#ff2935 138px,#ff2531 141px,#ff212c 144px,#fb1d28 147px,#f61923 150px,#f2151f 153px,#ed121b 156px,#e80e17 159px,#e30b13 162px,#de0810 165px,#d9060d 168px,#d4030a 171px,#cf0006 174px,#ca0005 177px,#c50004 180px,#c00003 183px,#bb0003 186px,#b60002 189px,#b10001 192px,#ac0001 195px,#a70001 198px,#a20000 201px,#9d0000 204px,#980000 207px,#930000 210px,#8e0000 213px,#890000 216px)"></i>
<i style="left:67px;top:193px;width:219px;background:linear-gradient(90deg,#00c6ff 0px,#00c5ff 3px,#00c4ff 6px,#00c3ff 9px,#00c2ff 12px,#00c1ff 15px,#00c0ff 18px,#00bfff 21px,#00beff 24px,#00bdff 27px,#00bcff 30px,#00bbff 33px,#00baff 36px,#00b8ff 39px,#00b7ff 42px,#00b6ff 45px,#00b4ff 48px,#00b3ff 51px,#00b1ff 54px,#17b3ff 57px,#2fb3ff 60px,#46b4ff 63px,#5cb4ff 66px,#73b4ff 69px,#89b5ff 72px,#a0b7ff 75px,#b7bcff 78px,#c9bfff 81px,#e2bdff 84px,#ffbafc 87px,#ffa7df 90px,#ff97c7 93px,#ff89b3 96px,#ff7da3 99px,#ff7294 102px,#ff6887 105px,#ff5f7c 108px,#ff5771 111px,#ff5068 114px,#ff4960 117px,#ff4358 120px,#ff3d51 123px,#ff374b 126px,#ff3245 129px,#ff2e3f 132px,#ff293a 135px,#ff2535 138px,#ff2130 141px,#ff1d2c 144px,#fa1927 147px,#f51522 150px,#f0121e 153px,#eb0e1a 156px,#e60b16 159px,#e10812 162px,#dc050f 165px,#d7020b 168px,#d20008 171px,#cd0007 174px,#c80006 177px,#c30005 180px,#be0004 183px,#b90003 186px,#b50002 189px,#b00002 192px,#ab0001 195px,#a60001 198px,#a10000 201px,#9c0000 204px,#970000 207px,#920000 210px,#8d0000 213px,#880000 216px,#830000 219px)"></i>
<i style="left:68px;top:195px;width:219px;background:linear-gradient(90deg,#00bcff 0px,#00bbff 3px,#00baff 6px,#00b9ff 9px,#00b8ff 12px,#00b7ff 15px,#00b6ff 18px,#00b5ff 21px,#00b4ff 24px,#00b2ff 27px,#00b1ff 30px,#00b0ff 33px,#00afff 36px,#00adff 39px,#00acff 42px,#00aaff 45px,#00a9ff 48px,#00a7ff 51px,#0ba7ff 54px,#23a8ff 57px,#3aa9ff 60px,#50a9ff 63px,#66aaff 66px,#7cabff 69px,#92adff 72px,#a9b1ff 75px,#bbb6ff 78px,#d0b4ff 81px,#ebb3ff 84px,#ffaaf3 87px,#ff99d8 90px,#ff8ac1 93px,#ff7eae 96px,#ff729e 99px,#ff6890 102px,#ff5f83 105px,#ff5778 108px,#ff4f6e 111px,#ff4865 114px,#ff425d 117px,#ff3c56 120px,#ff364f 123px,#ff3148 126px,#ff2d42 129px,#ff283d 132px,#ff2437 135px,#ff2033 138px,#ff1c2e 141px,#fc1829 144px,#f71424 147px,#f21020 150px,#ed0d1b 153px,#e80a17 156px,#e30713 159px,#de0410 162px,#da000c 165px,#d5000a 168px,#d00008 171px,#cb0007 174px,#c60006 177px,#c10005 180px,#bc0004 183px,#b70003 186px,#b20003 189px,#ad0002 192px,#a80001 195px,#a30001 198px,#9e0001 201px,#990000 204px,#940000 207px,#8f0000 210px,#8a0000 213px,#850000 216px,#800000 219px)"></i>
<i style="left:68px;top:197px;width:219px;background:linear-gradient(90deg,#00b4ff 0px,#00b3ff 3px,#00b1ff 6px,#00b0ff 9px,#00afff 12px,#00aeff 15px,#00adff 18px,#00abff 21px,#00aaff 24px,#00a9ff 27px,#00a7ff 30px,#00a6ff 33px,#00a4ff 36px,#00a3ff 39px,#00a1ff 42px,#00a0ff 45px,#009eff 48px,#009cff 51px,#0f9dff 54px,#279eff 57px,#3d9fff 60px,#53a0ff 63px,#68a1ff 66px,#7ea2ff 69px,#93a5ff 72px,#aaabff 75px,#b9adff 78px,#cfabff 81px,#eaa9ff 84px,#ffa1f4 87px,#ff91d9 90px,#ff83c2 93px,#ff76af 96px,#ff6c9f 99px,#ff6291 102px,#ff5984 105px,#ff5179 108px,#ff4a6f 111px,#ff4366 114px,#ff3d5d 117px,#ff3756 120px,#ff324f 123px,#ff2d48 126px,#ff2842 129px,#ff243c 132px,#ff2037 135px,#ff1c32 138px,#ff182d 141px,#fb1428 144px,#f61023 147px,#f10d1f 150px,#ec091a 153px,#e70616 156px,#e20312 159px,#dd000e 162px,#d8000c 165px,#d3000b 168px,#ce0009 171px,#c90008 174px,#c40007 177px,#bf0006 180px,#ba0005 183px,#b50004 186px,#b00003 189px,#ab0002 192px,#a60002 195px,#a10001 198px,#9d0001 201px,#980001 204px,#930000 207px,#8e0000 210px,#890000 213px,#840000 216px,#7f0000 219px)"></i>
<i style="left:69px;top:199px;width:219px;background:linear-gradient(90deg,#00abff 0px,#00aaff 3px,#00a8ff 6px,#00a7ff 9px,#00a6ff 12px,#00a5ff 15px,#00a3ff 18px,#00a2ff 21px,#00a0ff 24px,#009fff 27px,#009dff 30px,#009cff 33px,#009aff 36px,#0098ff 39px,#0097ff 42px,#0095ff 45px,#0093ff 48px,#0292ff 51px,#1c94ff 54px,#3295ff 57px,#4796ff 60px,#5c97ff 63px,#7199ff 66px,#869bff 69px,#9ca1ff 72px,#aca5ff 75px,#bea3ff 78px,#d7a0ff 81px,#f49eff 84px,#ff92eb 87px,#ff84d2 90px,#ff77bc 93px,#ff6caa 96px,#ff629b 99px,#ff598d 102px,#ff5181 105px,#ff4976 108px,#ff426c 111px,#ff3c63 114px,#ff365b 117px,#ff3153 120px,#ff2c4c 123px,#ff2746 126px,#ff2340 129px,#ff1e3a 132px,#ff1a35 135px,#ff1730 138px,#fd132b 141px,#f80f26 144px,#f30b21 147px,#ee081c 150px,#e90518 153px,#e40113 156px,#df0010 159px,#da000e 162px,#d5000c 165px,#d0000b 168px,#cb0009 171px,#c60008 174px,#c20007 177px,#bd0006 180px,#b80005 183px,#b30004 186px,#ae0003 189px,#a90003 192px,#a40002 195px,#9f0001 198px,#9a0001 201px,#950001 204px,#900000 207px,#8b0000 210px,#860000 213px,#810000 216px,#7c0000 219px)"></i>
<i style="left:69px;top:201px;width:216px;background:linear-gradient(90deg,#00a3ff 0px,#00a1ff 3px,#00a0ff 6px,#009fff 9px,#009dff 12px,#009cff 15px,#009aff 18px,#0099ff 21px,#0097ff 24px,#0096ff 27px,#0094ff 30px,#0093ff 33px,#0091ff 36px,#008fff 39px,#008dff 42px,#008bff 45px,#0089ff 48px,#0889ff 51px,#208bff 54px,#358dff 57px,#4a8eff 60px,#5f8fff 63px,#7391ff 66px,#8895ff 69px,#9d9dff 72px,#aa9cff 75px,#be99ff 78px,#d697ff 81px,#f394ff 84px,#ff8aed 87px,#ff7cd3 90px,#ff70be 93px,#ff65ab 96px,#ff5b9b 99px,#ff538e 102px,#ff4b81 105px,#ff4476 108px,#ff3d6c 111px,#ff3763 114px,#ff325b 117px,#ff2c53 120px,#ff274c 123px,#ff2346 126px,#ff1e40 129px,#ff1a3a 132px,#ff1635 135px,#ff1330 138px,#fc0f2a 141px,#f70b25 144px,#f20720 147px,#ed041b 150px,#e80016 153px,#e30013 156px,#de0011 159px,#d9000f 162px,#d4000d 165px,#cf000b 168px,#ca000a 171px,#c50009 174px,#c00007 177px,#bb0006 180px,#b60005 183px,#b10004 186px,#ac0004 189px,#a70003 192px,#a20002 195px,#9d0002 198px,#980001 201px,#930001 204px,#8e0001 207px,#8a0000 210px,#850000 213px,#800000 216px)"></i>
<i style="left:70px;top:203px;width:210px;background:linear-gradient(90deg,#009aff 0px,#0099ff 3px,#0098ff 6px,#0096ff 9px,#0095ff 12px,#0093ff 15px,#0092ff 18px,#0090ff 21px,#008eff 24px,#008dff 27px,#008bff 30px,#0089ff 33px,#0087ff 36px,#0085ff 39px,#0083ff 42px,#0081ff 45px,#007fff 48px,#1482ff 51px,#2a84ff 54px,#3f85ff 57px,#5387ff 60px,#6889ff 63px,#7c8cff 66px,#9093ff 69px,#9e95ff 72px,#af92ff 75px,#c590ff 78px,#df8dff 81px,#fc8aff 84px,#ff7de5 87px,#ff70cd 90px,#ff65b8 93px,#ff5ba7 96px,#ff5297 99px,#ff4a8a 102px,#ff437e 105px,#ff3c73 108px,#ff366a 111px,#ff3061 114px,#ff2b59 117px,#ff2651 120px,#ff214a 123px,#ff1d44 126px,#ff193e 129px,#ff1538 132px,#ff1133 135px,#fe0d2d 138px,#f90928 141px,#f40622 144px,#ef021d 147px,#ea0019 150px,#e50016 153px,#e00013 156px,#db0011 159px,#d6000f 162px,#d1000d 165px,#cc000c 168px,#c7000a 171px,#c20009 174px,#bd0007 177px,#b80006 180px,#b30005 183px,#af0005 186px,#aa0004 189px,#a50003 192px,#a00002 195px,#9b0002 198px,#960001 201px,#910001 204px,#8c0001 207px,#870000 210px)"></i>
<i style="left:70px;top:205px;width:207px;background:linear-gradient(90deg,#0093ff 0px,#0091ff 3px,#0090ff 6px,#008eff 9px,#008dff 12px,#008bff 15px,#008aff 18px,#0088ff 21px,#0086ff 24px,#0084ff 27px,#0083ff 30px,#0081ff 33px,#007fff 36px,#007dff 39px,#007bff 42px,#0079ff 45px,#0077ff 48px,#187aff 51px,#2e7cff 54px,#427eff 57px,#5680ff 60px,#6a82ff 63px,#7d87ff 66px,#908fff 69px,#9c8cff 72px,#ae8aff 75px,#c487ff 78px,#de84ff 81px,#fb81ff 84px,#ff75e6 87px,#ff69ce 90px,#ff5eb9 93px,#ff55a8 96px,#ff4c98 99px,#ff448b 102px,#ff3d7f 105px,#ff3774 108px,#ff316a 111px,#ff2b61 114px,#ff2659 117px,#ff2151 120px,#ff1d4a 123px,#ff1944 126px,#ff143e 129px,#ff1138 132px,#ff0d32 135px,#fd092d 138px,#f80527 141px,#f30121 144px,#ee001d 147px,#e9001a 150px,#e40017 153px,#df0014 156px,#da0012 159px,#d50010 162px,#d0000e 165px,#cb000c 168px,#c6000b 171px,#c10009 174px,#bc0008 177px,#b70007 180px,#b20006 183px,#ad0005 186px,#a80004 189px,#a30003 192px,#9e0003 195px,#990002 198px,#940002 201px,#8f0001 204px,#8a0001 207px)"></i>
<i style="left:71px;top:207px;width:201px;background:linear-gradient(90deg,#008bff 0px,#0089ff 3px,#0088ff 6px,#0086ff 9px,#0085ff 12px,#0083ff 15px,#0081ff 18px,#007fff 21px,#007eff 24px,#007cff 27px,#007aff 30px,#0078ff 33px,#0076ff 36px,#0074ff 39px,#0072ff 42px,#0070ff 45px,#0d71ff 48px,#2374ff 51px,#3775ff 54px,#4b78ff 57px,#5f7aff 60px,#727eff 63px,#8686ff 66px,#9186ff 69px,#a183ff 72px,#b580ff 75px,#cc7eff 78px,#e77bff 81px,#ff75f9 84px,#ff69de 87px,#ff5ec8 90px,#ff54b4 93px,#ff4ba3 96px,#ff4495 99px,#ff3c87 102px,#ff367c 105px,#ff3071 108px,#ff2a67 111px,#ff255f 114px,#ff2057 117px,#ff1b4f 120px,#ff1748 123px,#ff1342 126px,#ff0f3b 129px,#ff0b36 132px,#ff0730 135px,#fa0329 138px,#f50024 141px,#f00020 144px,#eb001d 147px,#e6001a 150px,#e10017 153px,#dc0014 156px,#d70012 159px,#d20010 162px,#cd000e 165px,#c8000c 168px,#c3000b 171px,#be0009 174px,#b90008 177px,#b40007 180px,#af0006 183px,#aa0005 186px,#a50004 189px,#a00004 192px,#9b0003 195px,#970002 198px,#920002 201px)"></i>
<i style="left:72px;top:209px;width:195px;background:linear-gradient(90deg,#0083ff 0px,#0082ff 3px,#0080ff 6px,#007eff 9px,#007dff 12px,#007bff 15px,#0079ff 18px,#0077ff 21px,#0075ff 24px,#0074ff 27px,#0072ff 30px,#0070ff 33px,#006dff 36px,#006bff 39px,#0069ff 42px,#0067ff 45px,#196bff 48px,#2d6eff 51px,#4170ff 54px,#5473ff 57px,#6776ff 60px,#7a7dff 63px,#8680ff 66px,#947dff 69px,#a67aff 72px,#bc77ff 75px,#d474ff 78px,#f071ff 81px,#ff69f1 84px,#ff5ed8 87px,#ff54c2 90px,#ff4baf 93px,#ff439f 96px,#ff3b91 99px,#ff3584 102px,#ff2e79 105px,#ff296e 108px,#ff2365 111px,#ff1e5c 114px,#ff1a54 117px,#ff154d 120px,#ff1146 123px,#ff0d3f 126px,#ff0939 129px,#ff0533 132px,#fc002c 135px,#f70028 138px,#f20023 141px,#ed0020 144px,#e8001c 147px,#e30019 150px,#de0017 153px,#d90014 156px,#d40012 159px,#cf0010 162px,#ca000e 165px,#c5000c 168px,#c0000b 171px,#bc000a 174px,#b70008 177px,#b20007 180px,#ad0006 183px,#a80005 186px,#a30004 189px,#9e0004 192px,#990003 195px)"></i>
<i style="left:72px;top:211px;width:192px;background:linear-gradient(90deg,#007cff 0px,#007bff 3px,#0079ff 6px,#0077ff 9px,#0076ff 12px,#0074ff 15px,#0072ff 18px,#0070ff 21px,#006eff 24px,#006cff 27px,#006aff 30px,#0068ff 33px,#0066ff 36px,#0064ff 39px,#0062ff 42px,#0661ff 45px,#1c65ff 48px,#3067ff 51px,#436aff 54px,#566dff 57px,#6972ff 60px,#7b7bff 63px,#8478ff 66px,#9375ff 69px,#a672ff 72px,#bb6fff 75px,#d46cff 78px,#ef69ff 81px,#ff61f2 84px,#ff57d9 87px,#ff4dc3 90px,#ff44b0 93px,#ff3da0 96px,#ff3592 99px,#ff2f85 102px,#ff2979 105px,#ff246f 108px,#ff1e65 111px,#ff1a5c 114px,#ff1554 117px,#ff104d 120px,#ff0c46 123px,#ff083f 126px,#ff0438 129px,#ff0032 132px,#fb002d 135px,#f60029 138px,#f10024 141px,#ec0021 144px,#e7001d 147px,#e2001a 150px,#dd0018 153px,#d80015 156px,#d30013 159px,#ce0011 162px,#c9000f 165px,#c4000d 168px,#bf000b 171px,#ba000a 174px,#b50009 177px,#b00008 180px,#ab0007 183px,#a60006 186px,#a10005 189px,#9c0004 192px)"></i>
<i style="left:73px;top:213px;width:186px;background:linear-gradient(90deg,#0075ff 0px,#0073ff 3px,#0072ff 6px,#0070ff 9px,#006eff 12px,#006cff 15px,#006aff 18px,#0069ff 21px,#0067ff 24px,#0065ff 27px,#0062ff 30px,#0060ff 33px,#005eff 36px,#005cff 39px,#005aff 42px,#125dff 45px,#2660ff 48px,#3963ff 51px,#4c66ff 54px,#5e6bff 57px,#7172ff 60px,#7b73ff 63px,#8870ff 66px,#996dff 69px,#ac6aff 72px,#c366ff 75px,#dc63ff 78px,#f85fff 81px,#ff56ea 84px,#ff4cd2 87px,#ff43be 90px,#ff3bac 93px,#ff349c 96px,#ff2e8e 99px,#ff2882 102px,#ff2276 105px,#ff1d6c 108px,#ff1863 111px,#ff135a 114px,#ff0f52 117px,#ff0a4a 120px,#ff0643 123px,#ff013c 126px,#ff0036 129px,#fd0032 132px,#f8002d 135px,#f30028 138px,#ee0024 141px,#e90021 144px,#e4001d 147px,#df001a 150px,#da0017 153px,#d50015 156px,#d00013 159px,#cb0011 162px,#c6000f 165px,#c1000d 168px,#bc000c 171px,#b7000a 174px,#b20009 177px,#ad0008 180px,#a90007 183px,#a40006 186px)"></i>
<i style="left:73px;top:215px;width:180px;background:linear-gradient(90deg,#006fff 0px,#006dff 3px,#006bff 6px,#0069ff 9px,#0068ff 12px,#0066ff 15px,#0064ff 18px,#0062ff 21px,#0060ff 24px,#005eff 27px,#005cff 30px,#0059ff 33px,#0057ff 36px,#0055ff 39px,#0053ff 42px,#1657ff 45px,#295bff 48px,#3c5eff 51px,#4e62ff 54px,#6067ff 57px,#706eff 60px,#796bff 63px,#8768ff 66px,#9865ff 69px,#ac62ff 72px,#c35fff 75px,#dc5bff 78px,#f757ff 81px,#ff4feb 84px,#ff45d3 87px,#ff3dbf 90px,#ff35ad 93px,#ff2e9d 96px,#ff288f 99px,#ff2282 102px,#ff1d77 105px,#ff176c 108px,#ff1363 111px,#ff0e5a 114px,#ff0952 117px,#ff054a 120px,#ff0042 123px,#ff003d 126px,#ff0038 129px,#fc0033 132px,#f7002e 135px,#f20029 138px,#ed0025 141px,#e80021 144px,#e3001e 147px,#de001b 150px,#d90018 153px,#d40016 156px,#cf0013 159px,#ca0011 162px,#c5000f 165px,#c0000e 168px,#bb000c 171px,#b6000b 174px,#b10009 177px,#ac0008 180px)"></i>
<i style="left:74px;top:217px;width:177px;background:linear-gradient(90deg,#0068ff 0px,#0066ff 3px,#0064ff 6px,#0063ff 9px,#0061ff 12px,#005fff 15px,#005dff 18px,#005bff 21px,#0059ff 24px,#0057ff 27px,#0054ff 30px,#0052ff 33px,#0050ff 36px,#004eff 39px,#0b50ff 42px,#2053ff 45px,#3257ff 48px,#455bff 51px,#5660ff 54px,#6868ff 57px,#7066ff 60px,#7d63ff 63px,#8c60ff 66px,#9f5dff 69px,#b359ff 72px,#ca56ff 75px,#e452ff 78px,#ff4efe 81px,#ff44e4 84px,#ff3bcd 87px,#ff34b9 90px,#ff2da8 93px,#ff2699 96px,#ff208b 99px,#ff1b7f 102px,#ff1574 105px,#ff106a 108px,#ff0c60 111px,#ff0757 114px,#ff024f 117px,#ff0047 120px,#ff0042 123px,#ff003c 126px,#fe0037 129px,#f90032 132px,#f4002d 135px,#ef0029 138px,#ea0025 141px,#e50021 144px,#e0001e 147px,#db001b 150px,#d60018 153px,#d10016 156px,#cc0013 159px,#c70011 162px,#c2000f 165px,#bd000e 168px,#b8000c 171px,#b3000b 174px,#ae0009 177px)"></i>
<i style="left:75px;top:219px;width:171px;background:linear-gradient(90deg,#0062ff 0px,#0060ff 3px,#005eff 6px,#005cff 9px,#005aff 12px,#0058ff 15px,#0056ff 18px,#0054ff 21px,#0052ff 24px,#0050ff 27px,#004eff 30px,#004bff 33px,#0049ff 36px,#0047ff 39px,#164cff 42px,#2950ff 45px,#3b54ff 48px,#4d59ff 51px,#5e60ff 54px,#6861ff 57px,#735eff 60px,#815bff 63px,#9258ff 66px,#a554ff 69px,#bb51ff 72px,#d24dff 75px,#ec49ff 78px,#ff43f6 81px,#ff3add 84px,#ff32c7 87px,#ff2bb4 90px,#ff24a4 93px,#ff1e95 96px,#ff1988 99px,#ff137c 102px,#ff0e71 105px,#ff0966 108px,#ff045d 111px,#ff0054 114px,#ff004d 117px,#ff0047 120px,#ff0041 123px,#ff003c 126px,#fb0037 129px,#f60031 132px,#f1002d 135px,#ec0028 138px,#e70024 141px,#e20021 144px,#dd001e 147px,#d8001b 150px,#d30018 153px,#ce0016 156px,#c90013 159px,#c40011 162px,#bf000f 165px,#ba000e 168px,#b6000c 171px)"></i>
<i style="left:75px;top:221px;width:165px;background:linear-gradient(90deg,#005cff 0px,#005aff 3px,#0058ff 6px,#0056ff 9px,#0054ff 12px,#0052ff 15px,#0050ff 18px,#004eff 21px,#004cff 24px,#004aff 27px,#0048ff 30px,#0045ff 33px,#0043ff 36px,#0443ff 39px,#1948ff 42px,#2c4cff 45px,#3e50ff 48px,#4f56ff 51px,#5e5eff 54px,#665bff 57px,#7258ff 60px,#8154ff 63px,#9251ff 66px,#a54dff 69px,#ba49ff 72px,#d245ff 75px,#eb41ff 78px,#ff3cf7 81px,#ff33de 84px,#ff2cc8 87px,#ff25b5 90px,#ff1ea5 93px,#ff1896 96px,#ff1388 99px,#ff0e7c 102px,#ff0871 105px,#ff0366 108px,#ff005d 111px,#ff0055 114px,#ff004e 117px,#ff0048 120px,#ff0043 123px,#ff003d 126px,#fa0038 129px,#f50032 132px,#f0002e 135px,#eb0029 138px,#e60025 141px,#e10022 144px,#dc001e 147px,#d7001b 150px,#d20019 153px,#cd0016 156px,#c80014 159px,#c30012 162px,#be0010 165px)"></i>
<i style="left:76px;top:223px;width:162px;background:linear-gradient(90deg,#0056ff 0px,#0054ff 3px,#0052ff 6px,#0050ff 9px,#004eff 12px,#004cff 15px,#004aff 18px,#0048ff 21px,#0046ff 24px,#0043ff 27px,#0041ff 30px,#003fff 33px,#003dff 36px,#1041ff 39px,#2345ff 42px,#354aff 45px,#464fff 48px,#5757ff 51px,#5e56ff 54px,#6953ff 57px,#7650ff 60px,#864cff 63px,#9849ff 66px,#ac45ff 69px,#c241ff 72px,#da3dff 75px,#f438ff 78px,#ff32ef 81px,#ff2ad7 84px,#ff23c3 87px,#ff1cb1 90px,#ff16a0 93px,#ff1092 96px,#ff0b85 99px,#ff0678 102px,#ff006d 105px,#ff0064 108px,#ff005c 111px,#ff0054 114px,#ff004e 117px,#ff0048 120px,#ff0042 123px,#fc003d 126px,#f70037 129px,#f20032 132px,#ed002d 135px,#e80029 138px,#e30025 141px,#de0021 144px,#d9001e 147px,#d4001b 150px,#cf0019 153px,#ca0016 156px,#c50014 159px,#c00012 162px)"></i>
<i style="left:77px;top:225px;width:156px;background:linear-gradient(90deg,#0050ff 0px,#004eff 3px,#004cff 6px,#004aff 9px,#0048ff 12px,#0046ff 15px,#0044ff 18px,#0042ff 21px,#0040ff 24px,#003dff 27px,#003bff 30px,#0039ff 33px,#0539ff 36px,#1a3fff 39px,#2c43ff 42px,#3d48ff 45px,#4e50ff 48px,#5752ff 51px,#604fff 54px,#6c4bff 57px,#7b48ff 60px,#8b44ff 63px,#9e40ff 66px,#b33dff 69px,#c938ff 72px,#e234ff 75px,#fc2fff 78px,#ff28e8 81px,#ff20d1 84px,#ff1abd 87px,#ff14ac 90px,#ff0e9c 93px,#ff088e 96px,#ff0280 99px,#ff0075 102px,#ff006b 105px,#ff0063 108px,#ff005b 111px,#ff0054 114px,#ff004d 117px,#ff0047 120px,#fe0042 123px,#f9003c 126px,#f40036 129px,#ef0031 132px,#ea002c 135px,#e50028 138px,#e00025 141px,#db0021 144px,#d6001e 147px,#d1001b 150px,#cc0018 153px,#c80016 156px)"></i>
<i style="left:77px;top:227px;width:153px;background:linear-gradient(90deg,#004bff 0px,#0049ff 3px,#0047ff 6px,#0045ff 9px,#0043ff 12px,#0041ff 15px,#003fff 18px,#003dff 21px,#003aff 24px,#0038ff 27px,#0036ff 30px,#0034ff 33px,#0a36ff 36px,#1d3bff 39px,#2e40ff 42px,#3f46ff 45px,#4f4fff 48px,#554cff 51px,#5f48ff 54px,#6c45ff 57px,#7a41ff 60px,#8b3eff 63px,#9e3aff 66px,#b236ff 69px,#c931ff 72px,#e12dff 75px,#fb28ff 78px,#ff21e9 81px,#ff1ad2 84px,#ff13be 87px,#ff0dac 90px,#ff079c 93px,#ff018e 96px,#ff0081 99px,#ff0077 102px,#ff006d 105px,#ff0064 108px,#ff005c 111px,#ff0055 114px,#ff004f 117px,#ff0049 120px,#fd0043 123px,#f8003d 126px,#f30037 129px,#ee0032 132px,#e9002d 135px,#e40029 138px,#df0025 141px,#da0022 144px,#d5001f 147px,#d0001c 150px,#cb0019 153px)"></i>
<i style="left:78px;top:229px;width:147px;background:linear-gradient(90deg,#0045ff 0px,#0043ff 3px,#0041ff 6px,#003fff 9px,#003dff 12px,#003bff 15px,#0039ff 18px,#0037ff 21px,#0035ff 24px,#0033ff 27px,#0030ff 30px,#002eff 33px,#1435ff 36px,#263aff 39px,#3640ff 42px,#4748ff 45px,#4e48ff 48px,#5744ff 51px,#6241ff 54px,#703dff 57px,#803aff 60px,#9136ff 63px,#a431ff 66px,#b92dff 69px,#d029ff 72px,#e924ff 75px,#ff1efb 78px,#ff17e2 81px,#ff10cc 84px,#ff0ab9 87px,#ff04a7 90px,#ff0098 93px,#ff008b 96px,#ff007f 99px,#ff0075 102px,#ff006b 105px,#ff0063 108px,#ff005b 111px,#ff0054 114px,#ff004e 117px,#ff0048 120px,#fa0042 123px,#f5003c 126px,#f00036 129px,#eb0031 132px,#e6002d 135px,#e10029 138px,#dc0025 141px,#d70021 144px,#d2001e 147px)"></i>
<i style="left:79px;top:231px;width:141px;background:linear-gradient(90deg,#0040ff 0px,#003eff 3px,#003cff 6px,#003aff 9px,#0038ff 12px,#0036ff 15px,#0034ff 18px,#0031ff 21px,#002fff 24px,#002dff 27px,#002bff 30px,#0a2eff 33px,#1d34ff 36px,#2e39ff 39px,#3e41ff 42px,#4844ff 45px,#4f41ff 48px,#5a3dff 51px,#6639ff 54px,#7536ff 57px,#8532ff 60px,#972eff 63px,#ab29ff 66px,#c025ff 69px,#d820ff 72px,#f11aff 75px,#ff14f3 78px,#ff0ddb 81px,#ff07c6 84px,#ff00b3 87px,#ff00a3 90px,#ff0095 93px,#ff0088 96px,#ff007d 99px,#ff0073 102px,#ff006a 105px,#ff0062 108px,#ff005a 111px,#ff0054 114px,#ff004d 117px,#fc0047 120px,#f70041 123px,#f2003b 126px,#ed0035 129px,#e80031 132px,#e3002c 135px,#de0028 138px,#da0024 141px)"></i>
<i style="left:79px;top:233px;width:138px;background:linear-gradient(90deg,#003bff 0px,#0039ff 3px,#0037ff 6px,#0035ff 9px,#0033ff 12px,#0031ff 15px,#002fff 18px,#002dff 21px,#002bff 24px,#0029ff 27px,#0026ff 30px,#0e2bff 33px,#2031ff 36px,#3038ff 39px,#4041ff 42px,#463eff 45px,#4e3bff 48px,#5937ff 51px,#6633ff 54px,#752fff 57px,#852bff 60px,#9727ff 63px,#ab22ff 66px,#c01eff 69px,#d718ff 72px,#f013ff 75px,#ff0cf4 78px,#ff05dc 81px,#ff00c7 84px,#ff00b4 87px,#ff00a4 90px,#ff0096 93px,#ff008a 96px,#ff007f 99px,#ff0075 102px,#ff006b 105px,#ff0063 108px,#ff005c 111px,#ff0055 114px,#ff004f 117px,#fb0048 120px,#f60042 123px,#f1003c 126px,#ec0036 129px,#e70031 132px,#e2002d 135px,#dd0029 138px)"></i>
<i style="left:80px;top:235px;width:132px;background:linear-gradient(90deg,#0036ff 0px,#0034ff 3px,#0032ff 6px,#0030ff 9px,#002eff 12px,#002cff 15px,#002aff 18px,#0028ff 21px,#0026ff 24px,#0024ff 27px,#0424ff 30px,#172bff 33px,#2831ff 36px,#3839ff 39px,#3f3aff 42px,#4737ff 45px,#5133ff 48px,#5d30ff 51px,#6a2cff 54px,#7a28ff 57px,#8b23ff 60px,#9d1fff 63px,#b11aff 66px,#c715ff 69px,#df0fff 72px,#f809ff 75px,#ff01ec 78px,#ff00d5 81px,#ff00c2 84px,#ff00b0 87px,#ff00a1 90px,#ff0094 93px,#ff0087 96px,#ff007d 99px,#ff0073 102px,#ff006a 105px,#ff0062 108px,#ff005b 111px,#ff0054 114px,#fd004e 117px,#f80047 120px,#f30040 123px,#ee003b 126px,#e90035 129px,#e40031 132px)"></i>
<i style="left:81px;top:237px;width:126px;background:linear-gradient(90deg,#0031ff 0px,#002fff 3px,#002dff 6px,#002bff 9px,#0029ff 12px,#0027ff 15px,#0025ff 18px,#0023ff 21px,#0021ff 24px,#001fff 27px,#0f25ff 30px,#202bff 33px,#3033ff 36px,#3a37ff 39px,#4034ff 42px,#4930ff 45px,#542cff 48px,#6128ff 51px,#6f24ff 54px,#7f20ff 57px,#901bff 60px,#a316ff 63px,#b811ff 66px,#ce0bff 69px,#e604ff 72px,#ff00fe 75px,#ff00e5 78px,#ff00d0 81px,#ff00bd 84px,#ff00ac 87px,#ff009e 90px,#ff0091 93px,#ff0085 96px,#ff007b 99px,#ff0071 102px,#ff0069 105px,#ff0061 108px,#ff005a 111px,#ff0054 114px,#fa004c 117px,#f50045 120px,#f0003f 123px,#eb003a 126px)"></i>
<i style="left:82px;top:239px;width:120px;background:linear-gradient(90deg,#002dff 0px,#002bff 3px,#0029ff 6px,#0027ff 9px,#0025ff 12px,#0023ff 15px,#0021ff 18px,#001fff 21px,#001dff 24px,#051eff 27px,#1825ff 30px,#282dff 33px,#3534ff 36px,#3a30ff 39px,#422dff 42px,#4c29ff 45px,#5825ff 48px,#6521ff 51px,#741cff 54px,#8418ff 57px,#9613ff 60px,#aa0dff 63px,#be07ff 66px,#d500ff 69px,#ee00ff 72px,#ff00f6 75px,#ff00df 78px,#ff00ca 81px,#ff00b9 84px,#ff00a9 87px,#ff009b 90px,#ff008e 93px,#ff0083 96px,#ff0079 99px,#ff0070 102px,#ff0068 105px,#ff0060 108px,#ff0059 111px,#fd0052 114px,#f8004b 117px,#f30044 120px)"></i>
<i style="left:82px;top:241px;width:117px;background:linear-gradient(90deg,#0029ff 0px,#0027ff 3px,#0025ff 6px,#0023ff 9px,#0021ff 12px,#001fff 15px,#001dff 18px,#001bff 21px,#0019ff 24px,#091cff 27px,#1a24ff 30px,#2a2cff 33px,#322eff 36px,#382bff 39px,#4127ff 42px,#4b23ff 45px,#571fff 48px,#651aff 51px,#7416ff 54px,#8411ff 57px,#960bff 60px,#a905ff 63px,#be00ff 66px,#d500ff 69px,#ed00ff 72px,#ff00f7 75px,#ff00e0 78px,#ff00cc 81px,#ff00ba 84px,#ff00aa 87px,#ff009c 90px,#ff0090 93px,#ff0084 96px,#ff007a 99px,#ff0071 102px,#ff0069 105px,#ff0061 108px,#ff005a 111px,#fb0053 114px,#f6004c 117px)"></i>
<i style="left:83px;top:243px;width:111px;background:linear-gradient(90deg,#0025ff 0px,#0023ff 3px,#0021ff 6px,#001fff 9px,#001dff 12px,#001bff 15px,#0019ff 18px,#0017ff 21px,#0015ff 24px,#121eff 27px,#2226ff 30px,#2d2bff 33px,#3227ff 36px,#3a24ff 39px,#4420ff 42px,#4f1bff 45px,#5b17ff 48px,#6912ff 51px,#790dff 54px,#8908ff 57px,#9b01ff 60px,#af00ff 63px,#c500ff 66px,#dc00ff 69px,#f500ff 72px,#ff00f0 75px,#ff00da 78px,#ff00c7 81px,#ff00b6 84px,#ff00a7 87px,#ff0099 90px,#ff008d 93px,#ff0082 96px,#ff0079 99px,#ff0070 102px,#ff0068 105px,#ff0060 108px,#fd0059 111px)"></i>
<i style="left:84px;top:245px;width:105px;background:linear-gradient(90deg,#0020ff 0px,#001fff 3px,#001dff 6px,#001bff 9px,#0019ff 12px,#0017ff 15px,#0015ff 18px,#0013ff 21px,#0a17ff 24px,#1b20ff 27px,#2828ff 30px,#2c24ff 33px,#3321ff 36px,#3c1dff 39px,#4618ff 42px,#5214ff 45px,#5f0fff 48px,#6e0aff 51px,#7d04ff 54px,#8e00ff 57px,#a200ff 60px,#b700ff 63px,#cd00ff 66px,#e400ff 69px,#fd00ff 72px,#ff00e9 75px,#ff00d4 78px,#ff00c2 81px,#ff00b2 84px,#ff00a3 87px,#ff0096 90px,#ff008b 93px,#ff0080 96px,#ff0077 99px,#ff006e 102px,#ff0067 105px)"></i>
<i style="left:85px;top:247px;width:102px;background:linear-gradient(90deg,#001dff 0px,#001bff 3px,#0019ff 6px,#0017ff 9px,#0015ff 12px,#0013ff 15px,#0011ff 18px,#0010ff 21px,#1319ff 24px,#2223ff 27px,#2721ff 30px,#2d1dff 33px,#3519ff 36px,#3f15ff 39px,#4a11ff 42px,#560cff 45px,#6306ff 48px,#7100ff 51px,#8300ff 54px,#9500ff 57px,#a900ff 60px,#be00ff 63px,#d400ff 66px,#eb00ff 69px,#ff00fa 72px,#ff00e3 75px,#ff00cf 78px,#ff00be 81px,#ff00ae 84px,#ff00a0 87px,#ff0094 90px,#ff0089 93px,#ff007f 96px,#ff0075 99px,#ff006d 102px)"></i>
<i style="left:86px;top:249px;width:96px;background:linear-gradient(90deg,#0019ff 0px,#0017ff 3px,#0015ff 6px,#0013ff 9px,#0012ff 12px,#0010ff 15px,#000eff 18px,#0a13ff 21px,#1b1cff 24px,#221eff 27px,#271bff 30px,#2e16ff 33px,#3712ff 36px,#410eff 39px,#4d09ff 42px,#5903ff 45px,#6700ff 48px,#7800ff 51px,#8a00ff 54px,#9c00ff 57px,#b000ff 60px,#c500ff 63px,#db00ff 66px,#f300ff 69px,#ff00f3 72px,#ff00dd 75px,#ff00ca 78px,#ff00ba 81px,#ff00ab 84px,#ff009d 87px,#ff0091 90px,#ff0087 93px,#ff007d 96px)"></i>
<i style="left:86px;top:251px;width:90px;background:linear-gradient(90deg,#0016ff 0px,#0014ff 3px,#0012ff 6px,#0011ff 9px,#000fff 12px,#000dff 15px,#000bff 18px,#0d13ff 21px,#1d1dff 24px,#2019ff 27px,#2615ff 30px,#2d11ff 33px,#360cff 36px,#4007ff 39px,#4b01ff 42px,#5900ff 45px,#6900ff 48px,#7900ff 51px,#8a00ff 54px,#9d00ff 57px,#b100ff 60px,#c500ff 63px,#db00ff 66px,#f200ff 69px,#ff00f4 72px,#ff00de 75px,#ff00cb 78px,#ff00bb 81px,#ff00ac 84px,#ff009f 87px,#ff0093 90px)"></i>
<i style="left:87px;top:253px;width:87px;background:linear-gradient(90deg,#0012ff 0px,#0011ff 3px,#000fff 6px,#000dff 9px,#000cff 12px,#000aff 15px,#050cff 18px,#1616ff 21px,#1b16ff 24px,#2012ff 27px,#270eff 30px,#2f09ff 33px,#3804ff 36px,#4300ff 39px,#5100ff 42px,#5f00ff 45px,#6f00ff 48px,#7f00ff 51px,#9100ff 54px,#a400ff 57px,#b800ff 60px,#cc00ff 63px,#e200ff 66px,#fa00ff 69px,#ff00ed 72px,#ff00d9 75px,#ff00c7 78px,#ff00b7 81px,#ff00a9 84px,#ff009c 87px)"></i>
<i style="left:88px;top:255px;width:81px;background:linear-gradient(90deg,#000fff 0px,#000eff 3px,#000cff 6px,#000aff 9px,#0009ff 12px,#0007ff 15px,#0e10ff 18px,#1613ff 21px,#1a0fff 24px,#200bff 27px,#2806ff 30px,#3000ff 33px,#3c00ff 36px,#4900ff 39px,#5700ff 42px,#6500ff 45px,#7500ff 48px,#8600ff 51px,#9800ff 54px,#ab00ff 57px,#be00ff 60px,#d300ff 63px,#ea00ff 66px,#ff00fd 69px,#ff00e7 72px,#ff00d4 75px,#ff00c2 78px,#ff00b3 81px)"></i>
<i style="left:89px;top:257px;width:75px;background:linear-gradient(90deg,#000cff 0px,#000bff 3px,#0009ff 6px,#0008ff 9px,#0006ff 12px,#0609ff 15px,#1211ff 18px,#150cff 21px,#1a08ff 24px,#2002ff 27px,#2900ff 30px,#3500ff 33px,#4100ff 36px,#4e00ff 39px,#5c00ff 42px,#6c00ff 45px,#7c00ff 48px,#8c00ff 51px,#9e00ff 54px,#b100ff 57px,#c500ff 60px,#da00ff 63px,#f100ff 66px,#ff00f6 69px,#ff00e1 72px,#ff00cf 75px)"></i>
<i style="left:90px;top:259px;width:69px;background:linear-gradient(90deg,#0009ff 0px,#0008ff 3px,#0006ff 6px,#0005ff 9px,#0004ff 12px,#0e0eff 15px,#100aff 18px,#1405ff 21px,#1a00ff 24px,#2400ff 27px,#2e00ff 30px,#3a00ff 33px,#4700ff 36px,#5400ff 39px,#6200ff 42px,#7200ff 45px,#8200ff 48px,#9300ff 51px,#a500ff 54px,#b800ff 57px,#cc00ff 60px,#e100ff 63px,#f800ff 66px,#ff00f0 69px)"></i>
<i style="left:91px;top:261px;width:63px;background:linear-gradient(90deg,#0007ff 0px,#0005ff 3px,#0004ff 6px,#0003ff 9px,#0607ff 12px,#0b07ff 15px,#0e01ff 18px,#1500ff 21px,#1e00ff 24px,#2900ff 27px,#3400ff 30px,#3f00ff 33px,#4c00ff 36px,#5a00ff 39px,#6800ff 42px,#7800ff 45px,#8800ff 48px,#9900ff 51px,#ac00ff 54px,#bf00ff 57px,#d300ff 60px,#e800ff 63px)"></i>
<i style="left:92px;top:263px;width:60px;background:linear-gradient(90deg,#0005ff 0px,#0003ff 3px,#0002ff 6px,#0001ff 9px,#0604ff 12px,#0900ff 15px,#1100ff 18px,#1900ff 21px,#2300ff 24px,#2d00ff 27px,#3900ff 30px,#4500ff 33px,#5200ff 36px,#6000ff 39px,#6e00ff 42px,#7e00ff 45px,#8e00ff 48px,#a000ff 51px,#b200ff 54px,#c500ff 57px,#da00ff 60px)"></i>
<i style="left:93px;top:265px;width:54px;background:linear-gradient(90deg,#0003ff 0px,#0001ff 3px,#0001ff 6px,#0100ff 9px,#0600ff 12px,#0d00ff 15px,#1500ff 18px,#1e00ff 21px,#2800ff 24px,#3200ff 27px,#3e00ff 30px,#4a00ff 33px,#5700ff 36px,#6500ff 39px,#7400ff 42px,#8400ff 45px,#9500ff 48px,#a600ff 51px,#b900ff 54px)"></i>
<i style="left:94px;top:267px;width:48px;background:linear-gradient(90deg,#0001ff 0px,#0000ff 3px,#0000ff 6px,#0300ff 9px,#0900ff 12px,#1100ff 15px,#1900ff 18px,#2200ff 21px,#2c00ff 24px,#3700ff 27px,#4300ff 30px,#5000ff 33px,#5d00ff 36px,#6b00ff 39px,#7a00ff 42px,#8a00ff 45px,#9b00ff 48px)"></i>
<i style="left:95px;top:269px;width:42px;background:linear-gradient(90deg,#0000ff 0px,#0000ff 3px,#0100ff 6px,#0600ff 9px,#0d00ff 12px,#1500ff 15px,#1d00ff 18px,#2700ff 21px,#3100ff 24px,#3c00ff 27px,#4800ff 30px,#5500ff 33px,#6300ff 36px,#7100ff 39px,#8000ff 42px)"></i>
<i style="left:96px;top:271px;width:39px;background:linear-gradient(90deg,#0000ff 0px,#0000ff 3px,#0400ff 6px,#0a00ff 9px,#1100ff 12px,#1900ff 15px,#2200ff 18px,#2c00ff 21px,#3600ff 24px,#4200ff 27px,#4e00ff 30px,#5b00ff 33px,#6800ff 36px,#7700ff 39px)"></i>
<i style="left:97px;top:273px;width:33px;background:linear-gradient(90deg,#0000ff 0px,#0100ff 3px,#0600ff 6px,#0d00ff 9px,#1400ff 12px,#1d00ff 15px,#2600ff 18px,#3000ff 21px,#3b00ff 24px,#4700ff 27px,#5300ff 30px,#6000ff 33px)"></i>
<i style="left:98px;top:275px;width:27px;background:linear-gradient(90deg,#0000ff 0px,#0400ff 3px,#0a00ff 6px,#1100ff 9px,#1800ff 12px,#2100ff 15px,#2b00ff 18px,#3500ff 21px,#4000ff 24px,#4c00ff 27px)"></i>
<i style="left:99px;top:277px;width:24px;background:linear-gradient(90deg,#0200ff 0px,#0700ff 3px,#0d00ff 6px,#1400ff 9px,#1c00ff 12px,#2500ff 15px,#2f00ff 18px,#3a00ff 21px,#4500ff 24px)"></i>
<i style="left:101px;top:279px;width:18px;background:linear-gradient(90deg,#0600ff 0px,#0c00ff 3px,#1300ff 6px,#1b00ff 9px,#2400ff 12px,#2d00ff 15px,#3700ff 18px)"></i>
<i style="left:104px;top:281px;width:12px;background:linear-gradient(90deg,#0d00ff 0px,#1400ff 3px,#1c00ff 6px,#2500ff 9px,#2e00ff 12px)"></i>
</div>
<svg width="760" height="446" viewBox="0 0 760 446">
<path d="M284.4 198.0 L172.0 250.3 L169.1 251.6 L166.1 253.0 L163.2 254.3 L160.2 255.7 L157.3 257.0 L154.4 258.4 L151.4 259.7 L148.5 261.1 L145.5 262.4 L142.6 263.8 L139.7 265.2 L136.7 266.5 L133.8 267.9 L130.9 269.3 L128.0 270.7 L125.1 272.2 L122.2 273.7 L119.4 275.2 L116.6 276.8 L113.9 278.5 L110.9 280.0 L107.8 280.4 L104.8 278.9 L102.5 276.6 L100.8 273.9 L99.2 271.1 L97.7 268.2 L96.2 265.4 L94.7 262.5 L93.3 259.6 L91.9 256.7 L90.6 253.7 L89.3 250.7 L88.0 247.8 L86.8 244.8 L85.6 241.8 L84.4 238.8 L83.3 235.7 L82.2 232.7 L81.1 229.6 L80.0 226.6 L79.0 223.5 L78.0 220.4 L77.0 217.4 L76.1 214.3 L75.1 211.2 L74.2 208.1 L73.2 205.0" fill="none" stroke="#8a008a" stroke-width="1.15" stroke-linejoin="round"/>
<path d="M73.2 205.0 L72.3 201.9 L71.5 198.8 L70.6 195.7 L69.7 192.5 L68.9 189.4 L68.1 186.3 L67.3 183.1 L66.6 180.0 L65.8 176.9 L65.1 173.7 L64.3 170.6 L63.6 167.4 L62.9 164.2 L62.2 161.1 L61.5 157.9 L60.9 154.8 L60.2 151.6 L59.6 148.4 L59.0 145.2 L58.5 142.1 L57.9 138.9 L57.4 135.7 L56.9 132.5 L56.5 129.3 L56.0 126.1 L55.7 122.9 L55.3 119.6 L55.0 116.4 L54.7 113.2 L54.5 110.0 L54.3 106.7 L54.1 103.5 L54.0 100.3 L53.9 97.0 L53.8 93.8 L53.7 90.6 L53.7 87.3 L53.8 84.1 L53.9 80.9 L54.0 77.6 L54.3 74.4 L54.6 71.2 L55.0 68.0 L55.6 64.8 L56.3 61.6 L57.1 58.5 L57.8 55.4 L58.7 52.2 L59.6 49.1 L60.7 46.1 L62.0 43.1 L63.6 40.3 L65.4 37.6 L67.4 35.1 L69.8 32.9 L72.7 31.4 L75.8 30.6 L79.1 30.4 L82.3 30.5 L85.5 30.9 L88.7 31.6 L91.8 32.5 L94.9 33.4 L97.9 34.5 L100.9 35.7 L103.9 37.0 L106.8 38.5 L109.6 40.0 L112.4 41.6 L115.3 43.2 L118.0 44.8 L120.8 46.5 L123.5 48.3 L126.2 50.1 L128.8 52.0 L131.3 54.0 L133.9 56.0 L136.4 58.1 L138.9 60.1 L141.3 62.2 L143.8 64.3 L146.2 66.4 L148.7 68.6 L151.1 70.7 L153.6 72.8 L156.0 74.9 L158.4 77.1 L160.9 79.2 L163.3 81.4 L165.7 83.5 L168.0 85.7 L170.4 87.9 L172.8 90.2 L175.1 92.4 L177.4 94.7 L179.7 96.9 L182.0 99.2 L184.3 101.5 L186.6 103.8 L188.9 106.0 L191.2 108.3 L193.5 110.6 L195.8 112.8 L198.2 115.0 L200.5 117.3 L202.9 119.5 L205.3 121.6 L207.7 123.8 L210.1 126.0 L212.5 128.2 L214.8 130.4 L217.1 132.6 L219.5 134.9 L221.8 137.2 L224.1 139.4 L226.3 141.7 L228.6 144.0 L230.9 146.3 L233.2 148.6 L235.5 150.9 L237.8 153.2 L240.1 155.5 L242.4 157.7 L244.7 160.0 L247.0 162.2 L249.3 164.5 L251.7 166.7 L254.0 169.0 L256.3 171.2 L258.7 173.4 L261.0 175.7 L263.4 177.9 L265.7 180.1 L268.0 182.4 L270.4 184.6 L272.7 186.8 L275.1 189.1 L277.4 191.3 L279.7 193.5 L282.1 195.8 L284.4 198.0" fill="none" stroke="#800080" stroke-width="1.6" stroke-linejoin="round" stroke-linecap="round"/>
<path d="M146.2 182.3L152.6 176.2L159.0 182.3L152.6 188.4Z" fill="#fff" stroke="#202020" stroke-width="0.7"/>
<path d="M251.7 182.0L258.1 175.9L264.5 182.0L258.1 188.1Z" fill="#ff0000" stroke="#202020" stroke-width="0.7"/>
<path d="M142.1 97.7L148.5 91.6L154.9 97.7L148.5 103.8Z" fill="#008000" stroke="#202020" stroke-width="0.7"/>
<path d="M93.8 266.4L100.2 260.3L106.6 266.4L100.2 272.5Z" fill="#0000c8" stroke="#202020" stroke-width="0.7"/>
<path d="M117.8 182.4L124.2 176.3L130.6 182.4L124.2 188.5Z" fill="none" stroke="#202020" stroke-width="0.7"/>
<path d="M148.9 237.0L155.3 230.9L161.7 237.0L155.3 243.1Z" fill="none" stroke="#202020" stroke-width="0.7"/>
<path d="M180.6 127.3L187.0 121.2L193.4 127.3L187.0 133.4Z" fill="none" stroke="#202020" stroke-width="0.7"/>
<path d="M133.4 207.2 L134.9 205.3 L136.4 203.3 L138.1 201.1 L139.9 198.9 L141.8 196.6 L143.8 194.3 L146.0 191.9 L148.2 189.5 L150.5 187.2 L152.9 184.8 L155.3 182.5 L157.8 180.3 L160.3 178.1 L162.9 176.0 L165.5 174.0 L168.1 172.1 L170.7 170.3 L173.3 168.6 L175.8 167.0 L178.4 165.5 L181.0 164.1 L183.5 162.8 L186.0 161.7 L188.4 160.6 L190.8 159.6 L193.2 158.8 L195.5 158.0 L197.7 157.4 L199.9 156.8 L202.1 156.3 L204.2 155.9 L206.3 155.6 L208.2 155.4 L210.2 155.2 L212.1 155.1 L213.9 155.1 L215.7 155.1 L217.4 155.2 L219.1 155.3 L220.7 155.5 L222.3 155.7 L223.8 155.9 L225.3 156.2 L226.7 156.5 L228.1 156.8 L229.4 157.2 L230.7 157.6 L232.0 158.0 L233.2 158.4 L234.4 158.9 L235.6 159.3 L236.7 159.8 L237.8 160.2 L238.8 160.7 L239.8 161.2 L240.8 161.7 L241.8 162.2 L242.7 162.7 L243.6 163.2 L244.5 163.7 L245.3 164.2 L246.1 164.7 L246.9 165.2 L247.7 165.7 L248.5 166.2 L249.2 166.7 L249.9 167.2 L250.6 167.7 L251.3 168.1 L252.0 168.6 L252.6 169.1 L253.2 169.5 L253.8 170.0 L254.4 170.4 L255.0 170.9 L255.5 171.3 L256.0 171.7 L256.6 172.1 L257.1 172.5 L257.6 172.9 L258.1 173.3 L258.5 173.7 L259.0 174.1 L259.4 174.4 L259.8 174.8 L260.3 175.1 L260.7 175.5 L261.1 175.8" fill="none" stroke="#121212" stroke-width="2.5" stroke-linecap="butt" stroke-linejoin="round"/>
<path d="M258.7 182.3 L149.1 98.0 L100.8 266.7 Z" fill="none" stroke="#a8a8a8" stroke-width="0.8" opacity="0.75"/>
<path d="M149.3 100.9 L191.8 131.9 L260.6 183.5 L160.2 233.2 L102.3 265.1 L125.1 182.4 Z" fill="none" stroke="#000" stroke-width="0.9" stroke-dasharray="2 1.2"/>
<circle cx="156.8" cy="182.8" r="3.3" fill="#000" stroke="#e8e8e8" stroke-width="0.9"/>
<circle cx="260.6" cy="183.5" r="3.3" fill="#000" stroke="#e8e8e8" stroke-width="0.9"/>
<circle cx="149.3" cy="100.9" r="3.3" fill="#000" stroke="#e8e8e8" stroke-width="0.9"/>
<circle cx="102.3" cy="265.1" r="3.3" fill="#000" stroke="#e8e8e8" stroke-width="0.9"/>
<circle cx="125.1" cy="182.4" r="3.3" fill="#000" stroke="#e8e8e8" stroke-width="0.9"/>
<circle cx="160.2" cy="233.2" r="3.3" fill="#000" stroke="#e8e8e8" stroke-width="0.9"/>
<circle cx="191.8" cy="131.9" r="3.3" fill="#000" stroke="#e8e8e8" stroke-width="0.9"/>
<path d="M52.7 23V286.1 M52 285.6H322" stroke="#111" stroke-width="0.95" fill="none"/>
<path d="M49 285.4H56 M52.4 282.0V288.8 M49 254.2H56 M84.6 282.0V288.8 M49 222.9H56 M116.9 282.0V288.8 M49 191.7H56 M149.1 282.0V288.8 M49 160.4H56 M181.4 282.0V288.8 M49 129.2H56 M213.6 282.0V288.8 M49 98.0H56 M245.8 282.0V288.8 M49 66.7H56 M278.1 282.0V288.8 M49 35.5H56 M310.3 282.0V288.8" stroke="#000" stroke-width="1" fill="none"/>
<text x="42.5" y="288.9" text-anchor="end" font-family="Liberation Sans, sans-serif" font-size="11.8" fill="#303030">0</text>
<text x="51.7" y="303.3" text-anchor="middle" font-family="Liberation Sans, sans-serif" font-size="11.8" fill="#303030">0</text>
<text x="42.5" y="257.7" text-anchor="end" font-family="Liberation Sans, sans-serif" font-size="11.8" fill="#303030">0.1</text>
<text x="83.9" y="303.3" text-anchor="middle" font-family="Liberation Sans, sans-serif" font-size="11.8" fill="#303030">0.1</text>
<text x="42.5" y="226.4" text-anchor="end" font-family="Liberation Sans, sans-serif" font-size="11.8" fill="#303030">0.2</text>
<text x="116.2" y="303.3" text-anchor="middle" font-family="Liberation Sans, sans-serif" font-size="11.8" fill="#303030">0.2</text>
<text x="42.5" y="195.2" text-anchor="end" font-family="Liberation Sans, sans-serif" font-size="11.8" fill="#303030">0.3</text>
<text x="148.4" y="303.3" text-anchor="middle" font-family="Liberation Sans, sans-serif" font-size="11.8" fill="#303030">0.3</text>
<text x="42.5" y="163.9" text-anchor="end" font-family="Liberation Sans, sans-serif" font-size="11.8" fill="#303030">0.4</text>
<text x="180.7" y="303.3" text-anchor="middle" font-family="Liberation Sans, sans-serif" font-size="11.8" fill="#303030">0.4</text>
<text x="42.5" y="132.7" text-anchor="end" font-family="Liberation Sans, sans-serif" font-size="11.8" fill="#303030">0.5</text>
<text x="212.9" y="303.3" text-anchor="middle" font-family="Liberation Sans, sans-serif" font-size="11.8" fill="#303030">0.5</text>
<text x="42.5" y="101.5" text-anchor="end" font-family="Liberation Sans, sans-serif" font-size="11.8" fill="#303030">0.6</text>
<text x="245.1" y="303.3" text-anchor="middle" font-family="Liberation Sans, sans-serif" font-size="11.8" fill="#303030">0.6</text>
<text x="42.5" y="70.2" text-anchor="end" font-family="Liberation Sans, sans-serif" font-size="11.8" fill="#303030">0.7</text>
<text x="277.4" y="303.3" text-anchor="middle" font-family="Liberation Sans, sans-serif" font-size="11.8" fill="#303030">0.7</text>
<text x="42.5" y="39.0" text-anchor="end" font-family="Liberation Sans, sans-serif" font-size="11.8" fill="#303030">0.8</text>
<text x="309.6" y="303.3" text-anchor="middle" font-family="Liberation Sans, sans-serif" font-size="11.8" fill="#303030">0.8</text>
<text x="189.5" y="20.6" text-anchor="middle" font-family="Liberation Sans, sans-serif" font-size="21.4" fill="#1c1c1c">CIE Gamut</text>
<text x="10.6" y="157.4" text-anchor="middle" font-family="Liberation Sans, sans-serif" font-size="12.5" fill="#2a2a2a">y</text>
<text x="180" y="324.5" text-anchor="middle" font-family="Liberation Sans, sans-serif" font-size="12.5" fill="#2a2a2a">x</text>
<rect x="7.4" y="0" width="561" height="0.9" fill="#b4b4b4"/><rect x="568.4" y="0" width="192" height="0.9" fill="#e2e2e2"/>
<defs>
<linearGradient id="pg" x1="0" y1="0" x2="0" y2="1"><stop offset="0" stop-color="#e9e9e9"/><stop offset="0.12" stop-color="#e6e6e6"/><stop offset="1" stop-color="#bcbcbc"/></linearGradient>
<linearGradient id="pg2" x1="0" y1="0" x2="0" y2="1"><stop offset="0" stop-color="#ececec"/><stop offset="0.2" stop-color="#e2e2e2"/><stop offset="1" stop-color="#bebebe"/></linearGradient>
</defs>
<rect x="756.5" y="4" width="2" height="296" fill="#dcdcdc"/>
<rect x="362.5" y="309.5" width="64" height="19" fill="#dadada"/>
<rect x="329.5" y="1.5" width="426.5" height="308" fill="url(#pg)" stroke="#3c3c3c" stroke-width="1"/>
<rect x="361.1" y="32.6" width="379.4" height="245.8" fill="#fff"/>
<path d="M361.1 254.7H740.5 M361.1 230.0H740.5 M361.1 205.3H740.5 M361.1 180.7H740.5 M361.1 156.0H740.5 M361.1 131.3H740.5 M361.1 106.6H740.5 M361.1 81.9H740.5 M361.1 57.3H740.5 M361.1 32.6H740.5" stroke="#8fb5b7" stroke-width="1" fill="none"/>
<rect x="366.1" y="32.6" width="21.8" height="245.8" fill="#ffffff" stroke="#000" stroke-width="0.9"/>
<rect x="387.9" y="32.6" width="21.7" height="245.8" fill="#000"/>
<rect x="420.3" y="226.9" width="21.8" height="51.5" fill="#ff0000" stroke="#000" stroke-width="0.9"/>
<rect x="442.1" y="205.2" width="21.7" height="73.2" fill="#000"/>
<rect x="474.5" y="102.9" width="21.8" height="175.5" fill="#008000" stroke="#000" stroke-width="0.9"/>
<rect x="496.3" y="112.0" width="21.7" height="166.4" fill="#000"/>
<rect x="528.7" y="261.5" width="21.8" height="16.9" fill="#0000ff" stroke="#000" stroke-width="0.9"/>
<rect x="550.5" y="252.6" width="21.7" height="25.8" fill="#000"/>
<rect x="582.9" y="85.1" width="21.8" height="193.3" fill="#00ffff" stroke="#000" stroke-width="0.9"/>
<rect x="604.7" y="74.3" width="21.7" height="204.1" fill="#000"/>
<rect x="637.1" y="209.1" width="21.8" height="69.3" fill="#ff00ff" stroke="#000" stroke-width="0.9"/>
<rect x="658.9" y="180.6" width="21.7" height="97.8" fill="#000"/>
<rect x="691.3" y="50.4" width="21.8" height="228.0" fill="#ffff00" stroke="#000" stroke-width="0.9"/>
<rect x="713.1" y="44.6" width="21.7" height="233.8" fill="#000"/>
<path d="M361.1 32.1V278.9 M361.1 278.4H740.5 M357.3 278.4H365.8 M357.3 254.7H365.8 M357.3 230.0H365.8 M357.3 205.3H365.8 M357.3 180.7H365.8 M357.3 156.0H365.8 M357.3 131.3H365.8 M357.3 106.6H365.8 M357.3 81.9H365.8 M357.3 57.3H365.8 M357.3 32.6H365.8 M361.1 275.8V281.8 M415.3 275.8V281.8 M469.5 275.8V281.8 M523.7 275.8V281.8 M577.9 275.8V281.8 M632.1 275.8V281.8 M686.3 275.8V281.8 M740.5 275.8V281.8" stroke="#5f9ea0" stroke-width="1.3" fill="none"/>
<text transform="translate(351.6,282.5) scale(1.05,1)" text-anchor="end" font-family="Liberation Sans, sans-serif" font-size="10.1" fill="#383838">0.0</text>
<text transform="translate(351.6,258.3) scale(1.05,1)" text-anchor="end" font-family="Liberation Sans, sans-serif" font-size="10.1" fill="#383838">0.1</text>
<text transform="translate(351.6,233.6) scale(1.05,1)" text-anchor="end" font-family="Liberation Sans, sans-serif" font-size="10.1" fill="#383838">0.2</text>
<text transform="translate(351.6,208.9) scale(1.05,1)" text-anchor="end" font-family="Liberation Sans, sans-serif" font-size="10.1" fill="#383838">0.3</text>
<text transform="translate(351.6,184.2) scale(1.05,1)" text-anchor="end" font-family="Liberation Sans, sans-serif" font-size="10.1" fill="#383838">0.4</text>
<text transform="translate(351.6,159.6) scale(1.05,1)" text-anchor="end" font-family="Liberation Sans, sans-serif" font-size="10.1" fill="#383838">0.5</text>
<text transform="translate(351.6,134.9) scale(1.05,1)" text-anchor="end" font-family="Liberation Sans, sans-serif" font-size="10.1" fill="#383838">0.6</text>
<text transform="translate(351.6,110.2) scale(1.05,1)" text-anchor="end" font-family="Liberation Sans, sans-serif" font-size="10.1" fill="#383838">0.7</text>
<text transform="translate(351.6,85.5) scale(1.05,1)" text-anchor="end" font-family="Liberation Sans, sans-serif" font-size="10.1" fill="#383838">0.8</text>
<text transform="translate(351.6,60.9) scale(1.05,1)" text-anchor="end" font-family="Liberation Sans, sans-serif" font-size="10.1" fill="#383838">0.9</text>
<text transform="translate(351.6,36.2) scale(1.05,1)" text-anchor="end" font-family="Liberation Sans, sans-serif" font-size="10.1" fill="#383838">1.0</text>
<text transform="translate(387.9,295.9) scale(1.05,1)" text-anchor="middle" font-family="Liberation Sans, sans-serif" font-size="10.1" fill="#383838">White</text>
<text transform="translate(442.1,295.9) scale(1.05,1)" text-anchor="middle" font-family="Liberation Sans, sans-serif" font-size="10.1" fill="#383838">Red</text>
<text transform="translate(496.3,295.9) scale(1.05,1)" text-anchor="middle" font-family="Liberation Sans, sans-serif" font-size="10.1" fill="#383838">Green</text>
<text transform="translate(550.5,295.9) scale(1.05,1)" text-anchor="middle" font-family="Liberation Sans, sans-serif" font-size="10.1" fill="#383838">Blue</text>
<text transform="translate(604.7,295.9) scale(1.05,1)" text-anchor="middle" font-family="Liberation Sans, sans-serif" font-size="10.1" fill="#383838">Cyan</text>
<text transform="translate(658.9,295.9) scale(1.05,1)" text-anchor="middle" font-family="Liberation Sans, sans-serif" font-size="10.1" fill="#383838">Magenta</text>
<text transform="translate(713.1,295.9) scale(1.05,1)" text-anchor="middle" font-family="Liberation Sans, sans-serif" font-size="10.1" fill="#383838">Yellow</text>
<text x="542.5" y="16.6" text-anchor="middle" font-family="Liberation Sans, sans-serif" font-size="14.6" fill="#222">Luminance</text>
<rect x="757" y="302" width="1.6" height="141" fill="#e4e4e4"/><rect x="428" y="441.5" width="330" height="1.6" fill="#e4e4e4"/>
<rect x="425.5" y="299" width="331" height="142" fill="url(#pg2)" stroke="#484848" stroke-width="1"/>
<path d="M426.6 440V300.1H500" stroke="#f4f4f4" stroke-width="1.2" fill="none"/>
<rect x="480.8" y="330.0" width="260.4" height="80.5" fill="#fff"/>
<path d="M506.8 330.0V410.5 M532.9 330.0V410.5 M585.0 330.0V410.5 M637.0 330.0V410.5 M663.1 330.0V410.5 M689.1 330.0V410.5 M715.2 330.0V410.5" stroke="#8fb5b7" stroke-width="1" fill="none"/>
<path d="M480.8 330.0H741.2" stroke="#b8b8b8" stroke-width="1" fill="none"/>
<rect x="481.4" y="331.7" width="127.6" height="8.1" fill="#ffffff" stroke="#202020" stroke-width="0.9"/>
<rect x="481.4" y="343.2" width="228.2" height="8.1" fill="#ff0000" stroke="#202020" stroke-width="0.9"/>
<rect x="481.4" y="354.7" width="52.6" height="8.1" fill="#008000" stroke="#202020" stroke-width="0.9"/>
<rect x="481.4" y="366.2" width="184.9" height="8.1" fill="#0000ff" stroke="#202020" stroke-width="0.9"/>
<rect x="481.4" y="377.7" width="49.8" height="8.1" fill="#00ffff" stroke="#202020" stroke-width="0.9"/>
<rect x="481.4" y="389.2" width="242.2" height="8.1" fill="#ff00ff" stroke="#202020" stroke-width="0.9"/>
<rect x="481.4" y="400.7" width="97.7" height="8.1" fill="#ffff00" stroke="#202020" stroke-width="0.9"/>
<path d="M558.9 330.0V410.5 M611.0 330.0V410.5 M741.2 330.0V410.5" stroke="#ff5050" stroke-width="1" fill="none"/>
<path d="M480.8 329.5V411.0 M480.8 410.5H741.2 M480.8 410.5V414.1 M506.8 410.5V414.1 M532.9 410.5V414.1 M558.9 410.5V414.1 M585.0 410.5V414.1 M611.0 410.5V414.1 M637.0 410.5V414.1 M663.1 410.5V414.1 M689.1 410.5V414.1 M715.2 410.5V414.1 M741.2 410.5V414.1 M477.3 330.0H483.8 M477.3 341.5H483.8 M477.3 353.0H483.8 M477.3 364.5H483.8 M477.3 376.0H483.8 M477.3 387.5H483.8 M477.3 399.0H483.8 M477.3 410.5H483.8" stroke="#5f9ea0" stroke-width="1.3" fill="none"/>
<text x="480.8" y="426.3" text-anchor="middle" font-family="Liberation Sans, sans-serif" font-size="10" fill="#333">0</text>
<text x="506.8" y="426.3" text-anchor="middle" font-family="Liberation Sans, sans-serif" font-size="10" fill="#333">1</text>
<text x="532.9" y="426.3" text-anchor="middle" font-family="Liberation Sans, sans-serif" font-size="10" fill="#333">2</text>
<text x="558.9" y="426.3" text-anchor="middle" font-family="Liberation Sans, sans-serif" font-size="10" fill="#333">3</text>
<text x="585.0" y="426.3" text-anchor="middle" font-family="Liberation Sans, sans-serif" font-size="10" fill="#333">4</text>
<text x="611.0" y="426.3" text-anchor="middle" font-family="Liberation Sans, sans-serif" font-size="10" fill="#333">5</text>
<text x="637.0" y="426.3" text-anchor="middle" font-family="Liberation Sans, sans-serif" font-size="10" fill="#333">6</text>
<text x="663.1" y="426.3" text-anchor="middle" font-family="Liberation Sans, sans-serif" font-size="10" fill="#333">7</text>
<text x="689.1" y="426.3" text-anchor="middle" font-family="Liberation Sans, sans-serif" font-size="10" fill="#333">8</text>
<text x="715.2" y="426.3" text-anchor="middle" font-family="Liberation Sans, sans-serif" font-size="10" fill="#333">9</text>
<text x="741.2" y="426.3" text-anchor="middle" font-family="Liberation Sans, sans-serif" font-size="10" fill="#333">10</text>
<text x="471.3" y="338.6" text-anchor="end" font-family="Liberation Sans, sans-serif" font-size="9.6" fill="#2c2c2c">White</text>
<text x="471.3" y="350.1" text-anchor="end" font-family="Liberation Sans, sans-serif" font-size="9.6" fill="#2c2c2c">Red</text>
<text x="471.3" y="361.6" text-anchor="end" font-family="Liberation Sans, sans-serif" font-size="9.6" fill="#2c2c2c">Green</text>
<text x="471.3" y="373.1" text-anchor="end" font-family="Liberation Sans, sans-serif" font-size="9.6" fill="#2c2c2c">Blue</text>
<text x="471.3" y="384.6" text-anchor="end" font-family="Liberation Sans, sans-serif" font-size="9.6" fill="#2c2c2c">Cyan</text>
<text x="471.3" y="396.1" text-anchor="end" font-family="Liberation Sans, sans-serif" font-size="9.6" fill="#2c2c2c">Magenta</text>
<text x="471.3" y="407.6" text-anchor="end" font-family="Liberation Sans, sans-serif" font-size="9.6" fill="#2c2c2c">Yellow</text>
<text x="591" y="313.9" text-anchor="middle" font-family="Liberation Sans, sans-serif" font-size="14.6" fill="#222">DeltaE 1994</text>
<rect x="8.5" y="328.5" width="415.5" height="112.0" fill="#fff"/>
<rect x="8.5" y="328.5" width="415.5" height="18.0" fill="#c0c0c0"/>
<rect x="9.0" y="347.0" width="38.0" height="15.0" fill="#000080"/>
<path d="M47.5 328.5V440.5 M94.5 328.5V440.5 M141.5 328.5V440.5 M188.5 328.5V440.5 M235.5 328.5V440.5 M282.5 328.5V440.5 M329.5 328.5V440.5 M376.5 328.5V440.5 M8.5 346.5H424 M8.5 362.5H424 M8.5 377.5H424 M8.5 393.5H424 M8.5 409.5H424 M8.5 424.5H424" stroke="#808080" stroke-width="1" fill="none"/>
<path d="M8.5 441.0V328.5H424" stroke="#404040" stroke-width="1.2" fill="none"/>
<path d="M8.0 440.5H424V328.0" stroke="#484848" stroke-width="2" fill="none"/>
<text transform="translate(12.0,341.4) scale(1,1.1)" text-anchor="start" font-family="Liberation Serif, serif" font-size="9.1" fill="#000">fL</text>
<text transform="translate(69.7,343.9) scale(1,1.1)" text-anchor="middle" font-family="Liberation Serif, serif" font-size="8.8" fill="#000">75%W</text>
<text transform="translate(116.7,343.9) scale(1,1.1)" text-anchor="middle" font-family="Liberation Serif, serif" font-size="8.8" fill="#000">Red</text>
<text transform="translate(163.7,343.9) scale(1,1.1)" text-anchor="middle" font-family="Liberation Serif, serif" font-size="8.8" fill="#000">Green</text>
<text transform="translate(210.7,343.9) scale(1,1.1)" text-anchor="middle" font-family="Liberation Serif, serif" font-size="8.8" fill="#000">Blue</text>
<text transform="translate(257.7,343.9) scale(1,1.1)" text-anchor="middle" font-family="Liberation Serif, serif" font-size="8.8" fill="#000">Cyan</text>
<text transform="translate(304.7,343.9) scale(1,1.1)" text-anchor="middle" font-family="Liberation Serif, serif" font-size="8.8" fill="#000">Magenta</text>
<text transform="translate(351.7,343.9) scale(1,1.1)" text-anchor="middle" font-family="Liberation Serif, serif" font-size="8.8" fill="#000">Yellow</text>
<text transform="translate(398.9,343.9) scale(1,1.1)" text-anchor="middle" font-family="Liberation Serif, serif" font-size="8.8" fill="#000">100W</text>
<text transform="translate(11.0,357.9) scale(1,1.1)" text-anchor="start" font-family="Liberation Serif, serif" font-size="9.1" fill="#fff">x</text>
<text transform="translate(91.4,359.2) scale(1,1.1)" text-anchor="end" font-family="Liberation Serif, serif" font-size="9.1" fill="#000">0.3237</text>
<text transform="translate(138.4,359.2) scale(1,1.1)" text-anchor="end" font-family="Liberation Serif, serif" font-size="9.1" fill="#000">0.6458</text>
<text transform="translate(185.4,359.2) scale(1,1.1)" text-anchor="end" font-family="Liberation Serif, serif" font-size="9.1" fill="#000">0.3005</text>
<text transform="translate(232.4,359.2) scale(1,1.1)" text-anchor="end" font-family="Liberation Serif, serif" font-size="9.1" fill="#000">0.1548</text>
<text transform="translate(279.4,359.2) scale(1,1.1)" text-anchor="end" font-family="Liberation Serif, serif" font-size="9.1" fill="#000">0.2255</text>
<text transform="translate(326.4,359.2) scale(1,1.1)" text-anchor="end" font-family="Liberation Serif, serif" font-size="9.1" fill="#000">0.3344</text>
<text transform="translate(373.4,359.2) scale(1,1.1)" text-anchor="end" font-family="Liberation Serif, serif" font-size="9.1" fill="#000">0.4324</text>
<text transform="translate(419.0,359.2) scale(1,1.1)" text-anchor="end" font-family="Liberation Serif, serif" font-size="9.1" fill="#000">0.3253</text>
<text transform="translate(11.0,373.9) scale(1,1.1)" text-anchor="start" font-family="Liberation Serif, serif" font-size="9.1" fill="#000">y</text>
<text transform="translate(91.4,375.2) scale(1,1.1)" text-anchor="end" font-family="Liberation Serif, serif" font-size="9.1" fill="#000">0.3285</text>
<text transform="translate(138.4,375.2) scale(1,1.1)" text-anchor="end" font-family="Liberation Serif, serif" font-size="9.1" fill="#000">0.3261</text>
<text transform="translate(185.4,375.2) scale(1,1.1)" text-anchor="end" font-family="Liberation Serif, serif" font-size="9.1" fill="#000">0.5905</text>
<text transform="translate(232.4,375.2) scale(1,1.1)" text-anchor="end" font-family="Liberation Serif, serif" font-size="9.1" fill="#000">0.0651</text>
<text transform="translate(279.4,375.2) scale(1,1.1)" text-anchor="end" font-family="Liberation Serif, serif" font-size="9.1" fill="#000">0.3296</text>
<text transform="translate(326.4,375.2) scale(1,1.1)" text-anchor="end" font-family="Liberation Serif, serif" font-size="9.1" fill="#000">0.1671</text>
<text transform="translate(373.4,375.2) scale(1,1.1)" text-anchor="end" font-family="Liberation Serif, serif" font-size="9.1" fill="#000">0.4915</text>
<text transform="translate(419.0,375.2) scale(1,1.1)" text-anchor="end" font-family="Liberation Serif, serif" font-size="9.1" fill="#000">0.3304</text>
<text transform="translate(11.0,388.9) scale(1,1.1)" text-anchor="start" font-family="Liberation Serif, serif" font-size="9.1" fill="#000">Y</text>
<text transform="translate(91.4,390.2) scale(1,1.1)" text-anchor="end" font-family="Liberation Serif, serif" font-size="9.1" fill="#000">15.9207</text>
<text transform="translate(138.4,390.2) scale(1,1.1)" text-anchor="end" font-family="Liberation Serif, serif" font-size="9.1" fill="#000">4.7836</text>
<text transform="translate(185.4,390.2) scale(1,1.1)" text-anchor="end" font-family="Liberation Serif, serif" font-size="9.1" fill="#000">10.8009</text>
<text transform="translate(232.4,390.2) scale(1,1.1)" text-anchor="end" font-family="Liberation Serif, serif" font-size="9.1" fill="#000">1.7243</text>
<text transform="translate(279.4,390.2) scale(1,1.1)" text-anchor="end" font-family="Liberation Serif, serif" font-size="9.1" fill="#000">13.2278</text>
<text transform="translate(326.4,390.2) scale(1,1.1)" text-anchor="end" font-family="Liberation Serif, serif" font-size="9.1" fill="#000">6.3732</text>
<text transform="translate(373.4,390.2) scale(1,1.1)" text-anchor="end" font-family="Liberation Serif, serif" font-size="9.1" fill="#000">15.1479</text>
<text transform="translate(419.0,390.2) scale(1,1.1)" text-anchor="end" font-family="Liberation Serif, serif" font-size="9.1" fill="#000">30.6155</text>
<text transform="translate(11.0,404.9) scale(1,1.1)" text-anchor="start" font-family="Liberation Serif, serif" font-size="9.1" fill="#000">T x</text>
<text transform="translate(91.4,406.2) scale(1,1.1)" text-anchor="end" font-family="Liberation Serif, serif" font-size="9.1" fill="#000">0.3127</text>
<text transform="translate(138.4,406.2) scale(1,1.1)" text-anchor="end" font-family="Liberation Serif, serif" font-size="9.1" fill="#000">0.6399</text>
<text transform="translate(185.4,406.2) scale(1,1.1)" text-anchor="end" font-family="Liberation Serif, serif" font-size="9.1" fill="#000">0.3000</text>
<text transform="translate(232.4,406.2) scale(1,1.1)" text-anchor="end" font-family="Liberation Serif, serif" font-size="9.1" fill="#000">0.1500</text>
<text transform="translate(279.4,406.2) scale(1,1.1)" text-anchor="end" font-family="Liberation Serif, serif" font-size="9.1" fill="#000">0.2246</text>
<text transform="translate(326.4,406.2) scale(1,1.1)" text-anchor="end" font-family="Liberation Serif, serif" font-size="9.1" fill="#000">0.3209</text>
<text transform="translate(373.4,406.2) scale(1,1.1)" text-anchor="end" font-family="Liberation Serif, serif" font-size="9.1" fill="#000">0.4193</text>
<text transform="translate(419.0,406.2) scale(1,1.1)" text-anchor="end" font-family="Liberation Serif, serif" font-size="9.1" fill="#000">0.3127</text>
<text transform="translate(11.0,420.9) scale(1,1.1)" text-anchor="start" font-family="Liberation Serif, serif" font-size="9.1" fill="#000">T y</text>
<text transform="translate(91.4,422.2) scale(1,1.1)" text-anchor="end" font-family="Liberation Serif, serif" font-size="9.1" fill="#000">0.3290</text>
<text transform="translate(138.4,422.2) scale(1,1.1)" text-anchor="end" font-family="Liberation Serif, serif" font-size="9.1" fill="#000">0.3300</text>
<text transform="translate(185.4,422.2) scale(1,1.1)" text-anchor="end" font-family="Liberation Serif, serif" font-size="9.1" fill="#000">0.6000</text>
<text transform="translate(232.4,422.2) scale(1,1.1)" text-anchor="end" font-family="Liberation Serif, serif" font-size="9.1" fill="#000">0.0599</text>
<text transform="translate(279.4,422.2) scale(1,1.1)" text-anchor="end" font-family="Liberation Serif, serif" font-size="9.1" fill="#000">0.3287</text>
<text transform="translate(326.4,422.2) scale(1,1.1)" text-anchor="end" font-family="Liberation Serif, serif" font-size="9.1" fill="#000">0.1541</text>
<text transform="translate(373.4,422.2) scale(1,1.1)" text-anchor="end" font-family="Liberation Serif, serif" font-size="9.1" fill="#000">0.5052</text>
<text transform="translate(419.0,422.2) scale(1,1.1)" text-anchor="end" font-family="Liberation Serif, serif" font-size="9.1" fill="#000">0.3290</text>
<text transform="translate(11.0,435.9) scale(1,1.1)" text-anchor="start" font-family="Liberation Serif, serif" font-size="9.1" fill="#000">T Y</text>
<text transform="translate(91.4,437.2) scale(1,1.1)" text-anchor="end" font-family="Liberation Serif, serif" font-size="9.1" fill="#000">15.9207</text>
<text transform="translate(138.4,437.2) scale(1,1.1)" text-anchor="end" font-family="Liberation Serif, serif" font-size="9.1" fill="#000">3.3855</text>
<text transform="translate(185.4,437.2) scale(1,1.1)" text-anchor="end" font-family="Liberation Serif, serif" font-size="9.1" fill="#000">11.3860</text>
<text transform="translate(232.4,437.2) scale(1,1.1)" text-anchor="end" font-family="Liberation Serif, serif" font-size="9.1" fill="#000">1.1491</text>
<text transform="translate(279.4,437.2) scale(1,1.1)" text-anchor="end" font-family="Liberation Serif, serif" font-size="9.1" fill="#000">12.5352</text>
<text transform="translate(326.4,437.2) scale(1,1.1)" text-anchor="end" font-family="Liberation Serif, serif" font-size="9.1" fill="#000">4.5347</text>
<text transform="translate(373.4,437.2) scale(1,1.1)" text-anchor="end" font-family="Liberation Serif, serif" font-size="9.1" fill="#000">14.7715</text>
<text transform="translate(419.0,437.2) scale(1,1.1)" text-anchor="end" font-family="Liberation Serif, serif" font-size="9.1" fill="#000">30.6155</text>
</svg>
</body></html>
